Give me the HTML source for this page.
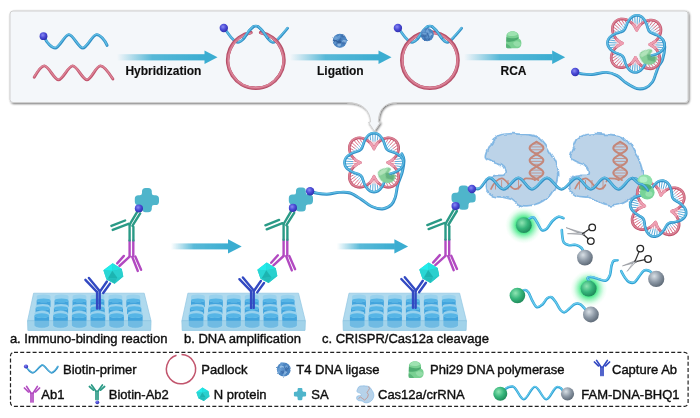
<!DOCTYPE html>
<html><head><meta charset="utf-8"><title>CRISPR/Cas12a immunoassay scheme</title>
<style>
html,body{margin:0;padding:0;background:#fff;}
body{width:700px;height:418px;overflow:hidden;}
svg{display:block;font-family:"Liberation Sans",sans-serif;fill:#111;}
text{stroke:#111;stroke-width:0.4px;}
text[font-weight]{stroke-width:0.15px;}
</style></head><body>
<svg width="700" height="418" viewBox="0 0 700 418">
<defs>
<linearGradient id="ga"><stop offset="0" stop-color="#3badd1" stop-opacity="0"/><stop offset="0.4" stop-color="#3badd1" stop-opacity="0.85"/><stop offset="1" stop-color="#3badd1"/></linearGradient>
<radialGradient id="gBio" cx="0.4" cy="0.36" r="0.7"><stop offset="0" stop-color="#8a8af2"/><stop offset="0.5" stop-color="#4a4ad6"/><stop offset="1" stop-color="#2a2aa6"/></radialGradient>
<radialGradient id="gGreen" cx="0.38" cy="0.35" r="0.75"><stop offset="0" stop-color="#8fe5b3"/><stop offset="0.5" stop-color="#35b57a"/><stop offset="1" stop-color="#1b7e52"/></radialGradient>
<radialGradient id="gGrey" cx="0.38" cy="0.33" r="0.75"><stop offset="0" stop-color="#d9e0e6"/><stop offset="0.5" stop-color="#8d99a6"/><stop offset="1" stop-color="#55616e"/></radialGradient>
<radialGradient id="gGlow"><stop offset="0" stop-color="#36e57e"/><stop offset="0.42" stop-color="#40e884" stop-opacity="0.95"/><stop offset="0.62" stop-color="#5aee96" stop-opacity="0.55"/><stop offset="0.82" stop-color="#7ff3ac" stop-opacity="0.18"/><stop offset="1" stop-color="#9ff7c0" stop-opacity="0"/></radialGradient>
<radialGradient id="gT4" cx="0.4" cy="0.35" r="0.75"><stop offset="0" stop-color="#86b2da"/><stop offset="0.6" stop-color="#4a7db3"/><stop offset="1" stop-color="#375f92"/></radialGradient>
<linearGradient id="gPhi" x1="0" x2="1" y1="0" y2="1"><stop offset="0" stop-color="#a9e2b4"/><stop offset="0.55" stop-color="#6fc78a"/><stop offset="1" stop-color="#4aa86e"/></linearGradient>
<filter id="fAll" x="0" y="0" width="700" height="418" filterUnits="userSpaceOnUse"><feGaussianBlur stdDeviation="0.42"/></filter>
<filter id="fB" x="-10%" y="-10%" width="120%" height="120%"><feGaussianBlur stdDeviation="0.45"/></filter>
<filter id="fB1" x="-10%" y="-10%" width="120%" height="120%"><feGaussianBlur stdDeviation="0.9"/></filter>
<filter id="fBlob" x="-10%" y="-10%" width="120%" height="120%"><feTurbulence type="fractalNoise" baseFrequency="0.11" numOctaves="2" seed="4" result="n"/><feDisplacementMap in="SourceGraphic" in2="n" scale="5" xChannelSelector="R" yChannelSelector="G"/><feGaussianBlur stdDeviation="0.7"/></filter>
<filter id="fT4" x="-20%" y="-20%" width="140%" height="140%"><feTurbulence type="fractalNoise" baseFrequency="0.35" numOctaves="2" seed="7" result="n"/><feDisplacementMap in="SourceGraphic" in2="n" scale="2.2" xChannelSelector="R" yChannelSelector="G"/><feGaussianBlur stdDeviation="0.45"/></filter>
<filter id="fS" x="-5%" y="-10%" width="110%" height="125%"><feGaussianBlur in="SourceAlpha" stdDeviation="1.2"/><feOffset dx="0.8" dy="1.2"/><feComponentTransfer><feFuncA type="linear" slope="0.55"/></feComponentTransfer><feMerge><feMergeNode/><feMergeNode in="SourceGraphic"/></feMerge></filter>
</defs>
<rect width="700" height="418" fill="#fff"/>
<g filter="url(#fAll)">
<path d="M13,11H685Q688,11 688,14V99.5Q688,102.5 685,102.5H397C384,102.5 378.6,110 378.3,122L380.3,122.4L374.4,131.2L368.5,122.4L370.5,122C370.2,110 362,102.5 347,102.5H13Q10,102.5 10,99.5V14Q10,11 13,11Z" fill="#f4f7fa" stroke="#cfcfcf" stroke-width="1" filter="url(#fS)"/>
<path d="M44.5,37.5C46.6,42.8 51.9,48.1 55.2,48.1C59.4,48.1 64.7,34.6 68.9,34.6C73.2,34.6 78.5,48.1 82.8,48.1C87.1,48.1 92.4,34.6 96.7,34.6C99.9,34.6 105,40 107.1,45.4" fill="none" stroke="#3290c6" stroke-width="2.9" stroke-linecap="round" stroke-linejoin="round" />
<path d="M44.5,37.5C46.6,42.8 51.9,48.1 55.2,48.1C59.4,48.1 64.7,34.6 68.9,34.6C73.2,34.6 78.5,48.1 82.8,48.1C87.1,48.1 92.4,34.6 96.7,34.6C99.9,34.6 105,40 107.1,45.4" fill="none" stroke="#5fbde4" stroke-width="1.4" stroke-linecap="round" stroke-linejoin="round" transform="translate(-0.2,-0.45)" />
<circle cx="43.5" cy="36.2" r="3.9" fill="url(#gBio)"/>
<path d="M34.2,77.3C36.2,73.9 41.2,65.9 44.3,65.9C48.7,65.9 54.1,79.9 58.5,79.9C62.9,79.9 68.3,65.9 72.7,65.9C77.1,65.9 82.6,79.9 87,79.9C91.2,79.9 96.2,65.9 100.4,65.9C104.3,65.9 110.4,75.1 112.9,79" fill="none" stroke="#c2566e" stroke-width="2.9" stroke-linecap="round" stroke-linejoin="round" />
<path d="M34.2,77.3C36.2,73.9 41.2,65.9 44.3,65.9C48.7,65.9 54.1,79.9 58.5,79.9C62.9,79.9 68.3,65.9 72.7,65.9C77.1,65.9 82.6,79.9 87,79.9C91.2,79.9 96.2,65.9 100.4,65.9C104.3,65.9 110.4,75.1 112.9,79" fill="none" stroke="#dc8497" stroke-width="1.4" stroke-linecap="round" stroke-linejoin="round" transform="translate(-0.2,-0.45)" />
<rect x="117" y="54.2" width="88" height="6.2" fill="url(#ga)"/>
<path d="M204.5,50.6L217.5,57.3L204.5,64Z" fill="#3badd1"/>
<text x="125.4" y="75" font-size="12" font-weight="bold">Hybridization</text>
<path d="M224.3,28.2C225.5,29.8 229.4,35.5 231.3,37.7C233.2,39.9 234.6,40.9 235.8,41.6C237.1,42.4 237.6,42.5 238.8,42.2C240,41.9 241,41.7 242.8,39.7C244.6,37.7 248.1,32.4 249.8,30.2C251.6,28.1 252.3,27.5 253.3,26.8C254.3,26.1 255,26.2 255.8,26.2C256.6,26.2 257.3,26.1 258.3,26.8C259.3,27.5 260.1,28.1 261.8,30.2C263.6,32.4 267.1,37.7 268.8,39.7C270.6,41.7 271.2,41.9 272.3,42.2C273.4,42.5 274.1,42.4 275.3,41.6C276.6,40.8 277.8,39.4 279.8,37.2C281.9,35 286.3,29.7 287.6,28.2" fill="none" stroke="#3290c6" stroke-width="2.7" stroke-linecap="round" stroke-linejoin="round" />
<path d="M224.3,28.2C225.5,29.8 229.4,35.5 231.3,37.7C233.2,39.9 234.6,40.9 235.8,41.6C237.1,42.4 237.6,42.5 238.8,42.2C240,41.9 241,41.7 242.8,39.7C244.6,37.7 248.1,32.4 249.8,30.2C251.6,28.1 252.3,27.5 253.3,26.8C254.3,26.1 255,26.2 255.8,26.2C256.6,26.2 257.3,26.1 258.3,26.8C259.3,27.5 260.1,28.1 261.8,30.2C263.6,32.4 267.1,37.7 268.8,39.7C270.6,41.7 271.2,41.9 272.3,42.2C273.4,42.5 274.1,42.4 275.3,41.6C276.6,40.8 277.8,39.4 279.8,37.2C281.9,35 286.3,29.7 287.6,28.2" fill="none" stroke="#5fbde4" stroke-width="1.4" stroke-linecap="round" stroke-linejoin="round" transform="translate(-0.2,-0.45)" />
<path d="M250.9,32.5A28.1,28.1 0 1 0 260.7,32.5" fill="none" stroke="#b54f68" stroke-width="3.6" stroke-linecap="round"/>
<path d="M251,33A27.6,27.6 0 1 0 260.6,33" fill="none" stroke="#cf6f86" stroke-width="2.2" stroke-linecap="round"/>
<path d="M251,33.2A27.4,27.4 0 1 0 260.6,33.2" fill="none" stroke="#e08da0" stroke-width="0.9" stroke-linecap="round"/>
<path d="M243.8,38.2C244.8,36.9 248.2,32.1 249.8,30.2C251.4,28.3 252.7,27.4 253.3,26.8" fill="none" stroke="#3290c6" stroke-width="2.7" stroke-linecap="round" stroke-linejoin="round" />
<path d="M243.8,38.2C244.8,36.9 248.2,32.1 249.8,30.2C251.4,28.3 252.7,27.4 253.3,26.8" fill="none" stroke="#5fbde4" stroke-width="1.4" stroke-linecap="round" stroke-linejoin="round" transform="translate(-0.2,-0.45)" />
<path d="M267.8,38.2C266.8,36.9 263.4,32.1 261.8,30.2C260.2,28.3 258.9,27.4 258.3,26.8" fill="none" stroke="#3290c6" stroke-width="2.7" stroke-linecap="round" stroke-linejoin="round" />
<path d="M267.8,38.2C266.8,36.9 263.4,32.1 261.8,30.2C260.2,28.3 258.9,27.4 258.3,26.8" fill="none" stroke="#5fbde4" stroke-width="1.4" stroke-linecap="round" stroke-linejoin="round" transform="translate(-0.2,-0.45)" />
<circle cx="223.8" cy="28" r="4.2" fill="url(#gBio)"/>
<rect x="290" y="54.2" width="89" height="6.2" fill="url(#ga)"/>
<path d="M378.5,50.6L391.5,57.3L378.5,64Z" fill="#3badd1"/>
<text x="317" y="75" font-size="12" font-weight="bold">Ligation</text>
<circle cx="339.8" cy="40.8" r="6.5" fill="#4c84c0"/>
<g filter="url(#fT4)">
<circle cx="339.8" cy="40.8" r="7" fill="#4c84c0"/>
<circle cx="339.6" cy="44.2" r="1.4" fill="#6a9fd6" opacity="0.7"/>
<circle cx="335.3" cy="41" r="1.6" fill="#325f9b" opacity="0.7"/>
<circle cx="339.2" cy="42.6" r="2" fill="#325f9b" opacity="0.7"/>
<circle cx="335.5" cy="39.3" r="1.5" fill="#3968a6" opacity="0.7"/>
<circle cx="339.5" cy="42.1" r="1.9" fill="#325f9b" opacity="0.7"/>
<circle cx="339.1" cy="35.9" r="1.2" fill="#6a9fd6" opacity="0.7"/>
<circle cx="344" cy="41.6" r="1.8" fill="#9cc4ea" opacity="0.7"/>
<circle cx="334.8" cy="41.1" r="1.9" fill="#325f9b" opacity="0.7"/>
<circle cx="335.4" cy="43.3" r="1.5" fill="#3968a6" opacity="0.7"/>
<circle cx="340.3" cy="39.3" r="1.2" fill="#3968a6" opacity="0.7"/>
<circle cx="339.1" cy="44.7" r="1.8" fill="#9cc4ea" opacity="0.7"/>
<circle cx="334.9" cy="42.7" r="1.6" fill="#6a9fd6" opacity="0.7"/>
<circle cx="335.8" cy="38.2" r="1.9" fill="#7fb0e0" opacity="0.7"/>
<circle cx="342.8" cy="35.9" r="1.7" fill="#3968a6" opacity="0.7"/>
<circle cx="338.4" cy="37.6" r="1.6" fill="#6a9fd6" opacity="0.7"/>
<circle cx="335.2" cy="38.4" r="1.3" fill="#6a9fd6" opacity="0.7"/>
<circle cx="339.1" cy="41.9" r="1.5" fill="#325f9b" opacity="0.7"/>
<circle cx="343.5" cy="42.9" r="1.5" fill="#3968a6" opacity="0.7"/>
</g>
<path d="M398.4,28.2C399.6,29.8 403.5,35.5 405.4,37.7C407.3,39.9 408.6,40.9 409.9,41.6C411.1,42.4 411.7,42.5 412.9,42.2C414.1,41.9 415.1,41.7 416.9,39.7C418.7,37.7 422.1,32.4 423.9,30.2C425.6,28.1 426.4,27.5 427.4,26.8C428.4,26.1 429.1,26.2 429.9,26.2C430.7,26.2 431.4,26.1 432.4,26.8C433.4,27.5 434.1,28.1 435.9,30.2C437.6,32.4 441.1,37.7 442.9,39.7C444.6,41.7 445.3,41.9 446.4,42.2C447.5,42.5 448.1,42.4 449.4,41.6C450.6,40.8 451.8,39.4 453.9,37.2C455.9,35 460.4,29.7 461.7,28.2" fill="none" stroke="#3290c6" stroke-width="2.7" stroke-linecap="round" stroke-linejoin="round" />
<path d="M398.4,28.2C399.6,29.8 403.5,35.5 405.4,37.7C407.3,39.9 408.6,40.9 409.9,41.6C411.1,42.4 411.7,42.5 412.9,42.2C414.1,41.9 415.1,41.7 416.9,39.7C418.7,37.7 422.1,32.4 423.9,30.2C425.6,28.1 426.4,27.5 427.4,26.8C428.4,26.1 429.1,26.2 429.9,26.2C430.7,26.2 431.4,26.1 432.4,26.8C433.4,27.5 434.1,28.1 435.9,30.2C437.6,32.4 441.1,37.7 442.9,39.7C444.6,41.7 445.3,41.9 446.4,42.2C447.5,42.5 448.1,42.4 449.4,41.6C450.6,40.8 451.8,39.4 453.9,37.2C455.9,35 460.4,29.7 461.7,28.2" fill="none" stroke="#5fbde4" stroke-width="1.4" stroke-linecap="round" stroke-linejoin="round" transform="translate(-0.2,-0.45)" />
<circle cx="429.9" cy="60.2" r="28.1" fill="none" stroke="#b54f68" stroke-width="3.6"/>
<circle cx="429.9" cy="60.2" r="27.6" fill="none" stroke="#cf6f86" stroke-width="2.2"/>
<circle cx="429.9" cy="60.2" r="27.4" fill="none" stroke="#e08da0" stroke-width="0.9"/>
<path d="M417.9,38.2C418.9,36.9 422.3,32.1 423.9,30.2C425.5,28.3 426.8,27.4 427.4,26.8" fill="none" stroke="#3290c6" stroke-width="2.7" stroke-linecap="round" stroke-linejoin="round" />
<path d="M417.9,38.2C418.9,36.9 422.3,32.1 423.9,30.2C425.5,28.3 426.8,27.4 427.4,26.8" fill="none" stroke="#5fbde4" stroke-width="1.4" stroke-linecap="round" stroke-linejoin="round" transform="translate(-0.2,-0.45)" />
<path d="M441.9,38.2C440.9,36.9 437.5,32.1 435.9,30.2C434.3,28.3 433,27.4 432.4,26.8" fill="none" stroke="#3290c6" stroke-width="2.7" stroke-linecap="round" stroke-linejoin="round" />
<path d="M441.9,38.2C440.9,36.9 437.5,32.1 435.9,30.2C434.3,28.3 433,27.4 432.4,26.8" fill="none" stroke="#5fbde4" stroke-width="1.4" stroke-linecap="round" stroke-linejoin="round" transform="translate(-0.2,-0.45)" />
<circle cx="397.9" cy="28" r="4.2" fill="url(#gBio)"/>
<circle cx="427.2" cy="34.6" r="6.1" fill="#4c84c0"/>
<g filter="url(#fT4)">
<circle cx="427.2" cy="34.6" r="6.6" fill="#4c84c0"/>
<circle cx="423.5" cy="31" r="1.7" fill="#6a9fd6" opacity="0.7"/>
<circle cx="430" cy="34.7" r="1.8" fill="#7fb0e0" opacity="0.7"/>
<circle cx="427.9" cy="33.3" r="1.4" fill="#3968a6" opacity="0.7"/>
<circle cx="425.7" cy="35" r="1.3" fill="#3968a6" opacity="0.7"/>
<circle cx="425.1" cy="35.1" r="1.7" fill="#325f9b" opacity="0.7"/>
<circle cx="429.2" cy="38" r="1.2" fill="#6a9fd6" opacity="0.7"/>
<circle cx="425.2" cy="34.6" r="1.8" fill="#7fb0e0" opacity="0.7"/>
<circle cx="427.2" cy="36.1" r="1.8" fill="#3968a6" opacity="0.7"/>
<circle cx="425.4" cy="39.1" r="1.5" fill="#3968a6" opacity="0.7"/>
<circle cx="428.9" cy="38.8" r="1.2" fill="#325f9b" opacity="0.7"/>
<circle cx="425.8" cy="36.8" r="1.2" fill="#3968a6" opacity="0.7"/>
<circle cx="426.5" cy="36.8" r="1.7" fill="#6a9fd6" opacity="0.7"/>
<circle cx="430.9" cy="34.2" r="1.3" fill="#9cc4ea" opacity="0.7"/>
<circle cx="425.1" cy="36.1" r="1.6" fill="#3968a6" opacity="0.7"/>
<circle cx="422.4" cy="34.6" r="1.1" fill="#7fb0e0" opacity="0.7"/>
<circle cx="429.4" cy="33.2" r="1.4" fill="#6a9fd6" opacity="0.7"/>
<circle cx="427.4" cy="31.3" r="1.5" fill="#7fb0e0" opacity="0.7"/>
<circle cx="422.6" cy="35.4" r="1.5" fill="#3968a6" opacity="0.7"/>
</g>
<rect x="464" y="54.1" width="88.7" height="6.2" fill="url(#ga)"/>
<path d="M552.2,50.5L565.2,57.2L552.2,63.9Z" fill="#3badd1"/>
<text x="500.5" y="75" font-size="12" font-weight="bold">RCA</text>
<g transform="translate(513.6,39.4) rotate(0) scale(1)" filter="url(#fB)">
<path d="M-7.2,-3C-7.4,-9.6 5,-10 5.2,-3.2L5,-0.8C9,0 8.8,8.8 4.2,8.8L-6,8.8Q-7.8,8.8 -7.6,6.5Z" fill="#79d092"/>
<path d="M-7.2,-2.5C-3,-0.5 2,-0.8 5,-2.4L5,-0.8C3,1.2 -3,3.4 -7.4,2.2Z" fill="#3f9f64" opacity="0.75"/>
<path d="M-6.2,-4.2C-6.2,-8.8 3.2,-9.2 4,-4.6C1,-3 -3,-3 -6.2,-4.2Z" fill="#a4e6b6" opacity="0.85"/>
<path d="M-0.5,3.6C2,0.8 7,1.6 7.2,5C6,8 1,8.4 -0.5,3.6Z" fill="#9be0ae" opacity="0.8"/>
<path d="M-7.4,4C-5,5 -3,7 -2,8.8L-6,8.8Q-7.8,8.8 -7.6,6.5Z" fill="#4cab6f" opacity="0.7"/>
</g>
<path d="M576,72.2C576.9,72.5 578.5,73.4 581.1,73.8C583.8,74.2 587.7,74.8 591.9,74.6C596.1,74.4 602.1,72.2 606.3,72.4C610.5,72.6 613.7,73.9 617,75.6C620.3,77.3 622.7,80.6 626,82.8C629.3,85 633.5,87.8 636.8,88.6C640.1,89.4 643.1,88.9 645.7,87.8C648.3,86.7 650.8,84.3 652.5,82C654.2,79.7 654.8,76.4 655.8,73.8C656.8,71.2 657.4,69 658.5,66.6C659.6,64.2 661.6,62.8 662.6,59.5C663.6,56.2 664.7,50.2 664.8,47C664.9,43.8 663.3,41.2 663,40" fill="none" stroke="#3290c6" stroke-width="2.9" stroke-linecap="round" stroke-linejoin="round" />
<path d="M576,72.2C576.9,72.5 578.5,73.4 581.1,73.8C583.8,74.2 587.7,74.8 591.9,74.6C596.1,74.4 602.1,72.2 606.3,72.4C610.5,72.6 613.7,73.9 617,75.6C620.3,77.3 622.7,80.6 626,82.8C629.3,85 633.5,87.8 636.8,88.6C640.1,89.4 643.1,88.9 645.7,87.8C648.3,86.7 650.8,84.3 652.5,82C654.2,79.7 654.8,76.4 655.8,73.8C656.8,71.2 657.4,69 658.5,66.6C659.6,64.2 661.6,62.8 662.6,59.5C663.6,56.2 664.7,50.2 664.8,47C664.9,43.8 663.3,41.2 663,40" fill="none" stroke="#5fbde4" stroke-width="1.4" stroke-linecap="round" stroke-linejoin="round" transform="translate(-0.2,-0.45)" />
<path d="M664.3,42.5L657.1,42.9" stroke="#4aa3d6" stroke-width="0.9"/>
<path d="M657.1,42.9L652.3,43.1" stroke="#e79aac" stroke-width="0.9"/>
<path d="M663,39.9L658.4,40.6" stroke="#4aa3d6" stroke-width="0.9"/>
<path d="M658.4,40.6L655.4,41" stroke="#e79aac" stroke-width="0.9"/>
<path d="M660.8,32.2L657.7,33.7" stroke="#d8607a" stroke-width="0.9"/>
<path d="M657.7,33.7L655.6,34.7" stroke="#7fc1e6" stroke-width="0.9"/>
<path d="M660.9,29L656.3,31.8" stroke="#d8607a" stroke-width="0.9"/>
<path d="M656.3,31.8L653.1,33.7" stroke="#7fc1e6" stroke-width="0.9"/>
<path d="M660.2,26L654.7,30.1" stroke="#d8607a" stroke-width="0.9"/>
<path d="M654.7,30.1L651.1,32.8" stroke="#7fc1e6" stroke-width="0.9"/>
<path d="M658.6,23.5L653.2,28.4" stroke="#d8607a" stroke-width="0.9"/>
<path d="M653.2,28.4L649.6,31.7" stroke="#7fc1e6" stroke-width="0.9"/>
<path d="M656.3,21.6L651.7,26.7" stroke="#d8607a" stroke-width="0.9"/>
<path d="M651.7,26.7L648.5,30.2" stroke="#7fc1e6" stroke-width="0.9"/>
<path d="M653.5,20.4L650.1,25.1" stroke="#d8607a" stroke-width="0.9"/>
<path d="M650.1,25.1L647.8,28.2" stroke="#7fc1e6" stroke-width="0.9"/>
<path d="M650.3,20.2L648.3,23.5" stroke="#d8607a" stroke-width="0.9"/>
<path d="M648.3,23.5L647,25.7" stroke="#7fc1e6" stroke-width="0.9"/>
<path d="M642.6,17.8L641.6,21.8" stroke="#4aa3d6" stroke-width="0.9"/>
<path d="M641.6,21.8L641,24.4" stroke="#e79aac" stroke-width="0.9"/>
<path d="M640.2,16.1L639.2,22.8" stroke="#4aa3d6" stroke-width="0.9"/>
<path d="M639.2,22.8L638.6,27.2" stroke="#e79aac" stroke-width="0.9"/>
<path d="M637.5,15.3L637.1,24.4" stroke="#4aa3d6" stroke-width="0.9"/>
<path d="M637.1,24.4L636.8,30.4" stroke="#e79aac" stroke-width="0.9"/>
<path d="M634.7,15.7L635.1,22.9" stroke="#4aa3d6" stroke-width="0.9"/>
<path d="M635.1,22.9L635.3,27.7" stroke="#e79aac" stroke-width="0.9"/>
<path d="M632.1,17L632.8,21.6" stroke="#4aa3d6" stroke-width="0.9"/>
<path d="M632.8,21.6L633.2,24.6" stroke="#e79aac" stroke-width="0.9"/>
<path d="M624.4,19.2L625.9,22.3" stroke="#d8607a" stroke-width="0.9"/>
<path d="M625.9,22.3L626.9,24.4" stroke="#7fc1e6" stroke-width="0.9"/>
<path d="M621.2,19.1L624,23.7" stroke="#d8607a" stroke-width="0.9"/>
<path d="M624,23.7L625.9,26.9" stroke="#7fc1e6" stroke-width="0.9"/>
<path d="M618.2,19.8L622.3,25.3" stroke="#d8607a" stroke-width="0.9"/>
<path d="M622.3,25.3L625,28.9" stroke="#7fc1e6" stroke-width="0.9"/>
<path d="M615.7,21.4L620.6,26.8" stroke="#d8607a" stroke-width="0.9"/>
<path d="M620.6,26.8L623.9,30.4" stroke="#7fc1e6" stroke-width="0.9"/>
<path d="M613.8,23.7L618.9,28.3" stroke="#d8607a" stroke-width="0.9"/>
<path d="M618.9,28.3L622.4,31.5" stroke="#7fc1e6" stroke-width="0.9"/>
<path d="M612.6,26.5L617.3,29.9" stroke="#d8607a" stroke-width="0.9"/>
<path d="M617.3,29.9L620.4,32.2" stroke="#7fc1e6" stroke-width="0.9"/>
<path d="M612.4,29.7L615.7,31.7" stroke="#d8607a" stroke-width="0.9"/>
<path d="M615.7,31.7L617.9,33" stroke="#7fc1e6" stroke-width="0.9"/>
<path d="M610,37.4L614,38.4" stroke="#4aa3d6" stroke-width="0.9"/>
<path d="M614,38.4L616.6,39" stroke="#e79aac" stroke-width="0.9"/>
<path d="M608.3,39.8L615,40.8" stroke="#4aa3d6" stroke-width="0.9"/>
<path d="M615,40.8L619.4,41.4" stroke="#e79aac" stroke-width="0.9"/>
<path d="M607.5,42.5L616.6,42.9" stroke="#4aa3d6" stroke-width="0.9"/>
<path d="M616.6,42.9L622.6,43.2" stroke="#e79aac" stroke-width="0.9"/>
<path d="M607.9,45.3L615.1,44.9" stroke="#4aa3d6" stroke-width="0.9"/>
<path d="M615.1,44.9L619.9,44.7" stroke="#e79aac" stroke-width="0.9"/>
<path d="M609.2,47.9L613.8,47.2" stroke="#4aa3d6" stroke-width="0.9"/>
<path d="M613.8,47.2L616.8,46.8" stroke="#e79aac" stroke-width="0.9"/>
<path d="M611.4,55.6L614.5,54.1" stroke="#d8607a" stroke-width="0.9"/>
<path d="M614.5,54.1L616.6,53.1" stroke="#7fc1e6" stroke-width="0.9"/>
<path d="M611.3,58.8L615.9,56" stroke="#d8607a" stroke-width="0.9"/>
<path d="M615.9,56L619.1,54.1" stroke="#7fc1e6" stroke-width="0.9"/>
<path d="M612,61.8L617.5,57.7" stroke="#d8607a" stroke-width="0.9"/>
<path d="M617.5,57.7L621.1,55" stroke="#7fc1e6" stroke-width="0.9"/>
<path d="M613.6,64.3L619,59.4" stroke="#d8607a" stroke-width="0.9"/>
<path d="M619,59.4L622.6,56.1" stroke="#7fc1e6" stroke-width="0.9"/>
<path d="M615.9,66.2L620.5,61.1" stroke="#d8607a" stroke-width="0.9"/>
<path d="M620.5,61.1L623.7,57.6" stroke="#7fc1e6" stroke-width="0.9"/>
<path d="M618.7,67.4L622.1,62.7" stroke="#d8607a" stroke-width="0.9"/>
<path d="M622.1,62.7L624.4,59.6" stroke="#7fc1e6" stroke-width="0.9"/>
<path d="M621.9,67.6L623.9,64.3" stroke="#d8607a" stroke-width="0.9"/>
<path d="M623.9,64.3L625.2,62.1" stroke="#7fc1e6" stroke-width="0.9"/>
<path d="M629.6,70L630.6,66" stroke="#4aa3d6" stroke-width="0.9"/>
<path d="M630.6,66L631.2,63.4" stroke="#e79aac" stroke-width="0.9"/>
<path d="M632,71.7L633,65" stroke="#4aa3d6" stroke-width="0.9"/>
<path d="M633,65L633.6,60.6" stroke="#e79aac" stroke-width="0.9"/>
<path d="M634.7,72.5L635.1,63.4" stroke="#4aa3d6" stroke-width="0.9"/>
<path d="M635.1,63.4L635.4,57.4" stroke="#e79aac" stroke-width="0.9"/>
<path d="M637.5,72.1L637.1,64.9" stroke="#4aa3d6" stroke-width="0.9"/>
<path d="M637.1,64.9L636.9,60.1" stroke="#e79aac" stroke-width="0.9"/>
<path d="M640.1,70.8L639.4,66.2" stroke="#4aa3d6" stroke-width="0.9"/>
<path d="M639.4,66.2L639,63.2" stroke="#e79aac" stroke-width="0.9"/>
<path d="M647.8,68.6L646.3,65.5" stroke="#d8607a" stroke-width="0.9"/>
<path d="M646.3,65.5L645.3,63.4" stroke="#7fc1e6" stroke-width="0.9"/>
<path d="M651,68.7L648.2,64.1" stroke="#d8607a" stroke-width="0.9"/>
<path d="M648.2,64.1L646.3,60.9" stroke="#7fc1e6" stroke-width="0.9"/>
<path d="M654,68L649.9,62.5" stroke="#d8607a" stroke-width="0.9"/>
<path d="M649.9,62.5L647.2,58.9" stroke="#7fc1e6" stroke-width="0.9"/>
<path d="M656.5,66.4L651.6,61" stroke="#d8607a" stroke-width="0.9"/>
<path d="M651.6,61L648.3,57.4" stroke="#7fc1e6" stroke-width="0.9"/>
<path d="M658.4,64.1L653.3,59.5" stroke="#d8607a" stroke-width="0.9"/>
<path d="M653.3,59.5L649.8,56.3" stroke="#7fc1e6" stroke-width="0.9"/>
<path d="M659.6,61.3L654.9,57.9" stroke="#d8607a" stroke-width="0.9"/>
<path d="M654.9,57.9L651.8,55.6" stroke="#7fc1e6" stroke-width="0.9"/>
<path d="M659.8,58.1L656.5,56.1" stroke="#d8607a" stroke-width="0.9"/>
<path d="M656.5,56.1L654.3,54.8" stroke="#7fc1e6" stroke-width="0.9"/>
<path d="M662.2,50.4L658.2,49.4" stroke="#4aa3d6" stroke-width="0.9"/>
<path d="M658.2,49.4L655.6,48.8" stroke="#e79aac" stroke-width="0.9"/>
<path d="M663.9,48L657.2,47" stroke="#4aa3d6" stroke-width="0.9"/>
<path d="M657.2,47L652.8,46.4" stroke="#e79aac" stroke-width="0.9"/>
<path d="M664.7,45.3L655.6,44.9" stroke="#4aa3d6" stroke-width="0.9"/>
<path d="M655.6,44.9L649.6,44.6" stroke="#e79aac" stroke-width="0.9"/>
<path d="M650.7,43.9L652.4,43L654.1,42L655.7,40.8L657.1,39.4L658.3,38L659.3,36.4L660.1,34.7L660.6,33L660.9,31.2L661,29.5L660.8,27.9L660.3,26.3L659.6,24.9L658.7,23.6L657.6,22.4L656.2,21.5L654.8,20.8L653.2,20.4L651.5,20.2L649.8,20.2L648,20.5L646.3,21L644.6,21.8L642.9,22.8L641.4,24L640,25.4L638.8,26.9L637.7,28.6L636.8,30.3L636.1,29.3L635.2,27.6L634.2,25.9L633,24.3L631.6,22.9L630.2,21.7L628.6,20.7L626.9,19.9L625.2,19.4L623.4,19.1L621.7,19L620.1,19.2L618.5,19.7L617.1,20.4L615.8,21.3L614.6,22.4L613.7,23.8L613,25.2L612.6,26.8L612.4,28.5L612.4,30.2L612.7,32L613.2,33.7L614,35.4L615,37.1L616.2,38.6L617.6,40L619.1,41.2L620.8,42.3L622.5,43.2L621.5,43.9L619.8,44.8L618.1,45.8L616.5,47L615.1,48.4L613.9,49.8L612.9,51.4L612.1,53.1L611.6,54.8L611.3,56.6L611.2,58.3L611.4,59.9L611.9,61.5L612.6,62.9L613.5,64.2L614.6,65.4L616,66.3L617.4,67L619,67.4L620.7,67.6L622.4,67.6L624.2,67.3L625.9,66.8L627.6,66L629.3,65L630.8,63.8L632.2,62.4L633.4,60.9L634.5,59.2L635.4,57.5L636.1,58.5L637,60.2L638,61.9L639.2,63.5L640.6,64.9L642,66.1L643.6,67.1L645.3,67.9L647,68.4L648.8,68.7L650.5,68.8L652.1,68.6L653.7,68.1L655.1,67.4L656.4,66.5L657.6,65.4L658.5,64L659.2,62.6L659.6,61L659.8,59.3L659.8,57.6L659.5,55.8L659,54.1L658.2,52.4L657.2,50.7L656,49.2L654.6,47.8L653.1,46.6L651.4,45.5L649.7,44.6Z" fill="none" stroke="#c2566e" stroke-width="2.7" stroke-linecap="round" stroke-linejoin="round" />
<path d="M650.7,43.9L652.4,43L654.1,42L655.7,40.8L657.1,39.4L658.3,38L659.3,36.4L660.1,34.7L660.6,33L660.9,31.2L661,29.5L660.8,27.9L660.3,26.3L659.6,24.9L658.7,23.6L657.6,22.4L656.2,21.5L654.8,20.8L653.2,20.4L651.5,20.2L649.8,20.2L648,20.5L646.3,21L644.6,21.8L642.9,22.8L641.4,24L640,25.4L638.8,26.9L637.7,28.6L636.8,30.3L636.1,29.3L635.2,27.6L634.2,25.9L633,24.3L631.6,22.9L630.2,21.7L628.6,20.7L626.9,19.9L625.2,19.4L623.4,19.1L621.7,19L620.1,19.2L618.5,19.7L617.1,20.4L615.8,21.3L614.6,22.4L613.7,23.8L613,25.2L612.6,26.8L612.4,28.5L612.4,30.2L612.7,32L613.2,33.7L614,35.4L615,37.1L616.2,38.6L617.6,40L619.1,41.2L620.8,42.3L622.5,43.2L621.5,43.9L619.8,44.8L618.1,45.8L616.5,47L615.1,48.4L613.9,49.8L612.9,51.4L612.1,53.1L611.6,54.8L611.3,56.6L611.2,58.3L611.4,59.9L611.9,61.5L612.6,62.9L613.5,64.2L614.6,65.4L616,66.3L617.4,67L619,67.4L620.7,67.6L622.4,67.6L624.2,67.3L625.9,66.8L627.6,66L629.3,65L630.8,63.8L632.2,62.4L633.4,60.9L634.5,59.2L635.4,57.5L636.1,58.5L637,60.2L638,61.9L639.2,63.5L640.6,64.9L642,66.1L643.6,67.1L645.3,67.9L647,68.4L648.8,68.7L650.5,68.8L652.1,68.6L653.7,68.1L655.1,67.4L656.4,66.5L657.6,65.4L658.5,64L659.2,62.6L659.6,61L659.8,59.3L659.8,57.6L659.5,55.8L659,54.1L658.2,52.4L657.2,50.7L656,49.2L654.6,47.8L653.1,46.6L651.4,45.5L649.7,44.6Z" fill="none" stroke="#dc8497" stroke-width="1.4" stroke-linecap="round" stroke-linejoin="round" transform="translate(-0.2,-0.45)" />
<path d="M655,48.2L654.3,47.5L653.5,46.9L652.7,46.3L651.9,45.8L651,45.3L650.2,44.8L649.3,44.4L650.2,44.1L651.1,43.7L652,43.3L652.8,42.8L653.7,42.3L654.5,41.7L655.3,41.1" fill="none" stroke="#ee9fb2" stroke-width="2.3" stroke-linecap="round" stroke-linejoin="round"/>
<path d="M640.4,25L639.7,25.7L639.1,26.5L638.5,27.3L638,28.1L637.5,29L637,29.8L636.6,30.7L636.3,29.8L635.9,28.9L635.5,28L635,27.2L634.5,26.3L633.9,25.5L633.3,24.7" fill="none" stroke="#ee9fb2" stroke-width="2.3" stroke-linecap="round" stroke-linejoin="round"/>
<path d="M617.2,39.6L617.9,40.3L618.7,40.9L619.5,41.5L620.3,42L621.2,42.5L622,43L622.9,43.4L622,43.7L621.1,44.1L620.2,44.5L619.4,45L618.5,45.5L617.7,46.1L616.9,46.7" fill="none" stroke="#ee9fb2" stroke-width="2.3" stroke-linecap="round" stroke-linejoin="round"/>
<path d="M631.8,62.8L632.5,62.1L633.1,61.3L633.7,60.5L634.2,59.7L634.7,58.8L635.2,58L635.6,57.1L635.9,58L636.3,58.9L636.7,59.8L637.2,60.6L637.7,61.5L638.3,62.3L638.9,63.1" fill="none" stroke="#ee9fb2" stroke-width="2.3" stroke-linecap="round" stroke-linejoin="round"/>
<path d="M664.6,43.9L664.3,42.4L663.7,41L662.8,39.7L661.7,38.4L660.5,37.4L659.1,36.4L657.7,35.6L656.2,34.9L654.8,34.4L653.5,33.8L652.3,33.4L651.3,32.9L650.4,32.3L649.6,31.7L649,31L648.5,30.1L648.1,29.1L647.7,27.9L647.3,26.6L646.9,25.2L646.4,23.8L645.7,22.3L645,20.8L644.1,19.4L643,18.1L641.8,17L640.5,16.2L639.1,15.6L637.6,15.3L636.1,15.4L634.6,15.7L633.2,16.3L631.9,17.2L630.6,18.3L629.6,19.5L628.6,20.9L627.8,22.3L627.1,23.8L626.6,25.2L626,26.5L625.6,27.7L625.1,28.7L624.5,29.6L623.9,30.4L623.2,31L622.3,31.5L621.3,31.9L620.1,32.3L618.8,32.7L617.4,33.1L616,33.6L614.5,34.3L613,35L611.6,35.9L610.3,37L609.2,38.2L608.4,39.5L607.8,40.9L607.5,42.4L607.6,43.9L607.9,45.4L608.5,46.8L609.4,48.1L610.5,49.4L611.7,50.4L613.1,51.4L614.5,52.2L616,52.9L617.4,53.4L618.7,54L619.9,54.4L620.9,54.9L621.8,55.5L622.6,56.1L623.2,56.8L623.7,57.7L624.1,58.7L624.5,59.9L624.9,61.2L625.3,62.6L625.8,64L626.5,65.5L627.2,67L628.1,68.4L629.2,69.7L630.4,70.8L631.7,71.6L633.1,72.2L634.6,72.5L636.1,72.4L637.6,72.1L639,71.5L640.3,70.6L641.6,69.5L642.6,68.3L643.6,66.9L644.4,65.5L645.1,64L645.6,62.6L646.2,61.3L646.6,60.1L647.1,59.1L647.7,58.2L648.3,57.4L649,56.8L649.9,56.3L650.9,55.9L652.1,55.5L653.4,55.1L654.8,54.7L656.2,54.2L657.7,53.5L659.2,52.8L660.6,51.9L661.9,50.8L663,49.6L663.8,48.3L664.4,46.9L664.7,45.4Z" fill="none" stroke="#3290c6" stroke-width="2.7" stroke-linecap="round" stroke-linejoin="round" />
<path d="M664.6,43.9L664.3,42.4L663.7,41L662.8,39.7L661.7,38.4L660.5,37.4L659.1,36.4L657.7,35.6L656.2,34.9L654.8,34.4L653.5,33.8L652.3,33.4L651.3,32.9L650.4,32.3L649.6,31.7L649,31L648.5,30.1L648.1,29.1L647.7,27.9L647.3,26.6L646.9,25.2L646.4,23.8L645.7,22.3L645,20.8L644.1,19.4L643,18.1L641.8,17L640.5,16.2L639.1,15.6L637.6,15.3L636.1,15.4L634.6,15.7L633.2,16.3L631.9,17.2L630.6,18.3L629.6,19.5L628.6,20.9L627.8,22.3L627.1,23.8L626.6,25.2L626,26.5L625.6,27.7L625.1,28.7L624.5,29.6L623.9,30.4L623.2,31L622.3,31.5L621.3,31.9L620.1,32.3L618.8,32.7L617.4,33.1L616,33.6L614.5,34.3L613,35L611.6,35.9L610.3,37L609.2,38.2L608.4,39.5L607.8,40.9L607.5,42.4L607.6,43.9L607.9,45.4L608.5,46.8L609.4,48.1L610.5,49.4L611.7,50.4L613.1,51.4L614.5,52.2L616,52.9L617.4,53.4L618.7,54L619.9,54.4L620.9,54.9L621.8,55.5L622.6,56.1L623.2,56.8L623.7,57.7L624.1,58.7L624.5,59.9L624.9,61.2L625.3,62.6L625.8,64L626.5,65.5L627.2,67L628.1,68.4L629.2,69.7L630.4,70.8L631.7,71.6L633.1,72.2L634.6,72.5L636.1,72.4L637.6,72.1L639,71.5L640.3,70.6L641.6,69.5L642.6,68.3L643.6,66.9L644.4,65.5L645.1,64L645.6,62.6L646.2,61.3L646.6,60.1L647.1,59.1L647.7,58.2L648.3,57.4L649,56.8L649.9,56.3L650.9,55.9L652.1,55.5L653.4,55.1L654.8,54.7L656.2,54.2L657.7,53.5L659.2,52.8L660.6,51.9L661.9,50.8L663,49.6L663.8,48.3L664.4,46.9L664.7,45.4Z" fill="none" stroke="#5fbde4" stroke-width="1.4" stroke-linecap="round" stroke-linejoin="round" transform="translate(-0.2,-0.45)" />
<g transform="translate(648,57.3) rotate(-30) scale(1.12)" filter="url(#fB)">
<path d="M-5.5,-6Q-4.5,-7.6 -1,-7.4L5,-5.6Q7,-4.6 6.2,-2.6L3,-1.4L2.6,1.2L6.4,2.4Q7.6,3.4 6.8,5.2L3.6,7.2Q1,8 -2,6.8L-5.6,3.6Q-7,0.5 -6.6,-3Z" fill="#86cf98"/>
<path d="M-5,-5.6L-1,-6.8L4.6,-5L0.4,-2.6L-5,-2.8Z" fill="#b9e6c0" opacity="0.85"/>
<path d="M0.4,-2.6L3,-1.4L2.6,1.2L6.4,2.4L3.4,6.6L-1.5,2Z" fill="#4f9f6e" opacity="0.6"/>
</g>
<circle cx="575.2" cy="72" r="4.2" fill="url(#gBio)"/>
<path d="M33.6,293.2L144.2,293.2L151,320.8L27.6,320.8Z" fill="#b0daee" stroke="#90c6e2" stroke-width="0.7"/>
<path d="M27.6,320.8L151,320.8L150.7,330.4L27.9,330.4Z" fill="#9dd0e9" stroke="#84bedd" stroke-width="0.7"/>
<path d="M36.7,296.4V306.8A6.9,1.9 0 0 0 50.5,306.8V296.4A6.9,1.9 0 0 0 36.7,296.4Z" fill="#98d1ed"/>
<path d="M36.7,300.4V306.8A6.9,1.9 0 0 0 50.5,306.8V300.4A6.9,1.9 0 0 1 36.7,300.4Z" fill="#42a4dd"/>
<ellipse cx="43.6" cy="300.4" rx="6.9" ry="1.9" fill="#56b5e6"/>
<path d="M36.7,306.8A6.9,1.9 0 0 0 50.5,306.8" fill="none" stroke="#cfeaf6" stroke-width="0.6" opacity="0.8"/>
<path d="M54.6,296.4V306.8A6.9,1.9 0 0 0 68.5,306.8V296.4A6.9,1.9 0 0 0 54.6,296.4Z" fill="#98d1ed"/>
<path d="M54.6,300.4V306.8A6.9,1.9 0 0 0 68.5,306.8V300.4A6.9,1.9 0 0 1 54.6,300.4Z" fill="#42a4dd"/>
<ellipse cx="61.5" cy="300.4" rx="6.9" ry="1.9" fill="#56b5e6"/>
<path d="M54.6,306.8A6.9,1.9 0 0 0 68.5,306.8" fill="none" stroke="#cfeaf6" stroke-width="0.6" opacity="0.8"/>
<path d="M72.6,296.4V306.8A6.9,1.9 0 0 0 86.4,306.8V296.4A6.9,1.9 0 0 0 72.6,296.4Z" fill="#98d1ed"/>
<path d="M72.6,300.4V306.8A6.9,1.9 0 0 0 86.4,306.8V300.4A6.9,1.9 0 0 1 72.6,300.4Z" fill="#42a4dd"/>
<ellipse cx="79.5" cy="300.4" rx="6.9" ry="1.9" fill="#56b5e6"/>
<path d="M72.6,306.8A6.9,1.9 0 0 0 86.4,306.8" fill="none" stroke="#cfeaf6" stroke-width="0.6" opacity="0.8"/>
<path d="M90.5,296.4V306.8A6.9,1.9 0 0 0 104.3,306.8V296.4A6.9,1.9 0 0 0 90.5,296.4Z" fill="#98d1ed"/>
<path d="M90.5,300.4V306.8A6.9,1.9 0 0 0 104.3,306.8V300.4A6.9,1.9 0 0 1 90.5,300.4Z" fill="#42a4dd"/>
<ellipse cx="97.4" cy="300.4" rx="6.9" ry="1.9" fill="#56b5e6"/>
<path d="M90.5,306.8A6.9,1.9 0 0 0 104.3,306.8" fill="none" stroke="#cfeaf6" stroke-width="0.6" opacity="0.8"/>
<path d="M108.5,296.4V306.8A6.9,1.9 0 0 0 122.3,306.8V296.4A6.9,1.9 0 0 0 108.5,296.4Z" fill="#98d1ed"/>
<path d="M108.5,300.4V306.8A6.9,1.9 0 0 0 122.3,306.8V300.4A6.9,1.9 0 0 1 108.5,300.4Z" fill="#42a4dd"/>
<ellipse cx="115.4" cy="300.4" rx="6.9" ry="1.9" fill="#56b5e6"/>
<path d="M108.5,306.8A6.9,1.9 0 0 0 122.3,306.8" fill="none" stroke="#cfeaf6" stroke-width="0.6" opacity="0.8"/>
<path d="M126.4,296.4V306.8A6.9,1.9 0 0 0 140.2,306.8V296.4A6.9,1.9 0 0 0 126.4,296.4Z" fill="#98d1ed"/>
<path d="M126.4,300.4V306.8A6.9,1.9 0 0 0 140.2,306.8V300.4A6.9,1.9 0 0 1 126.4,300.4Z" fill="#42a4dd"/>
<ellipse cx="133.3" cy="300.4" rx="6.9" ry="1.9" fill="#56b5e6"/>
<path d="M126.4,306.8A6.9,1.9 0 0 0 140.2,306.8" fill="none" stroke="#cfeaf6" stroke-width="0.6" opacity="0.8"/>
<path d="M35.6,306V313.8A7.1,2.1 0 0 0 49.8,313.8V306A7.1,2.1 0 0 0 35.6,306Z" fill="#98d1ed"/>
<path d="M35.6,308.3V313.8A7.1,2.1 0 0 0 49.8,313.8V308.3A7.1,2.1 0 0 1 35.6,308.3Z" fill="#42a4dd"/>
<ellipse cx="42.7" cy="308.3" rx="7.1" ry="2.1" fill="#56b5e6"/>
<path d="M35.6,313.8A7.1,2.1 0 0 0 49.8,313.8" fill="none" stroke="#cfeaf6" stroke-width="0.6" opacity="0.8"/>
<path d="M53.9,306V313.8A7.1,2.1 0 0 0 68.1,313.8V306A7.1,2.1 0 0 0 53.9,306Z" fill="#98d1ed"/>
<path d="M53.9,308.3V313.8A7.1,2.1 0 0 0 68.1,313.8V308.3A7.1,2.1 0 0 1 53.9,308.3Z" fill="#42a4dd"/>
<ellipse cx="61" cy="308.3" rx="7.1" ry="2.1" fill="#56b5e6"/>
<path d="M53.9,313.8A7.1,2.1 0 0 0 68.1,313.8" fill="none" stroke="#cfeaf6" stroke-width="0.6" opacity="0.8"/>
<path d="M72.2,306V313.8A7.1,2.1 0 0 0 86.4,313.8V306A7.1,2.1 0 0 0 72.2,306Z" fill="#98d1ed"/>
<path d="M72.2,308.3V313.8A7.1,2.1 0 0 0 86.4,313.8V308.3A7.1,2.1 0 0 1 72.2,308.3Z" fill="#42a4dd"/>
<ellipse cx="79.3" cy="308.3" rx="7.1" ry="2.1" fill="#56b5e6"/>
<path d="M72.2,313.8A7.1,2.1 0 0 0 86.4,313.8" fill="none" stroke="#cfeaf6" stroke-width="0.6" opacity="0.8"/>
<path d="M90.5,306V313.8A7.1,2.1 0 0 0 104.7,313.8V306A7.1,2.1 0 0 0 90.5,306Z" fill="#98d1ed"/>
<path d="M90.5,308.3V313.8A7.1,2.1 0 0 0 104.7,313.8V308.3A7.1,2.1 0 0 1 90.5,308.3Z" fill="#42a4dd"/>
<ellipse cx="97.6" cy="308.3" rx="7.1" ry="2.1" fill="#56b5e6"/>
<path d="M90.5,313.8A7.1,2.1 0 0 0 104.7,313.8" fill="none" stroke="#cfeaf6" stroke-width="0.6" opacity="0.8"/>
<path d="M108.8,306V313.8A7.1,2.1 0 0 0 123,313.8V306A7.1,2.1 0 0 0 108.8,306Z" fill="#98d1ed"/>
<path d="M108.8,308.3V313.8A7.1,2.1 0 0 0 123,313.8V308.3A7.1,2.1 0 0 1 108.8,308.3Z" fill="#42a4dd"/>
<ellipse cx="115.9" cy="308.3" rx="7.1" ry="2.1" fill="#56b5e6"/>
<path d="M108.8,313.8A7.1,2.1 0 0 0 123,313.8" fill="none" stroke="#cfeaf6" stroke-width="0.6" opacity="0.8"/>
<path d="M127.1,306V313.8A7.1,2.1 0 0 0 141.3,313.8V306A7.1,2.1 0 0 0 127.1,306Z" fill="#98d1ed"/>
<path d="M127.1,308.3V313.8A7.1,2.1 0 0 0 141.3,313.8V308.3A7.1,2.1 0 0 1 127.1,308.3Z" fill="#42a4dd"/>
<ellipse cx="134.2" cy="308.3" rx="7.1" ry="2.1" fill="#56b5e6"/>
<path d="M127.1,313.8A7.1,2.1 0 0 0 141.3,313.8" fill="none" stroke="#cfeaf6" stroke-width="0.6" opacity="0.8"/>
<path d="M34.5,313.2V325.8A7.3,2.4 0 0 0 49.1,325.8V313.2A7.3,2.4 0 0 0 34.5,313.2Z" fill="#98d1ed"/>
<path d="M34.5,315.6V325.8A7.3,2.4 0 0 0 49.1,325.8V315.6A7.3,2.4 0 0 1 34.5,315.6Z" fill="#42a4dd"/>
<ellipse cx="41.8" cy="315.6" rx="7.3" ry="2.4" fill="#56b5e6"/>
<path d="M34.5,325.8A7.3,2.4 0 0 0 49.1,325.8" fill="none" stroke="#cfeaf6" stroke-width="0.6" opacity="0.8"/>
<path d="M53.2,313.2V325.8A7.3,2.4 0 0 0 67.8,325.8V313.2A7.3,2.4 0 0 0 53.2,313.2Z" fill="#98d1ed"/>
<path d="M53.2,315.6V325.8A7.3,2.4 0 0 0 67.8,325.8V315.6A7.3,2.4 0 0 1 53.2,315.6Z" fill="#42a4dd"/>
<ellipse cx="60.5" cy="315.6" rx="7.3" ry="2.4" fill="#56b5e6"/>
<path d="M53.2,325.8A7.3,2.4 0 0 0 67.8,325.8" fill="none" stroke="#cfeaf6" stroke-width="0.6" opacity="0.8"/>
<path d="M71.9,313.2V325.8A7.3,2.4 0 0 0 86.5,325.8V313.2A7.3,2.4 0 0 0 71.9,313.2Z" fill="#98d1ed"/>
<path d="M71.9,315.6V325.8A7.3,2.4 0 0 0 86.5,325.8V315.6A7.3,2.4 0 0 1 71.9,315.6Z" fill="#42a4dd"/>
<ellipse cx="79.2" cy="315.6" rx="7.3" ry="2.4" fill="#56b5e6"/>
<path d="M71.9,325.8A7.3,2.4 0 0 0 86.5,325.8" fill="none" stroke="#cfeaf6" stroke-width="0.6" opacity="0.8"/>
<path d="M90.6,313.2V325.8A7.3,2.4 0 0 0 105.2,325.8V313.2A7.3,2.4 0 0 0 90.6,313.2Z" fill="#98d1ed"/>
<path d="M90.6,315.6V325.8A7.3,2.4 0 0 0 105.2,325.8V315.6A7.3,2.4 0 0 1 90.6,315.6Z" fill="#42a4dd"/>
<ellipse cx="97.9" cy="315.6" rx="7.3" ry="2.4" fill="#56b5e6"/>
<path d="M90.6,325.8A7.3,2.4 0 0 0 105.2,325.8" fill="none" stroke="#cfeaf6" stroke-width="0.6" opacity="0.8"/>
<path d="M109.3,313.2V325.8A7.3,2.4 0 0 0 123.9,325.8V313.2A7.3,2.4 0 0 0 109.3,313.2Z" fill="#98d1ed"/>
<path d="M109.3,315.6V325.8A7.3,2.4 0 0 0 123.9,325.8V315.6A7.3,2.4 0 0 1 109.3,315.6Z" fill="#42a4dd"/>
<ellipse cx="116.6" cy="315.6" rx="7.3" ry="2.4" fill="#56b5e6"/>
<path d="M109.3,325.8A7.3,2.4 0 0 0 123.9,325.8" fill="none" stroke="#cfeaf6" stroke-width="0.6" opacity="0.8"/>
<path d="M128,313.2V325.8A7.3,2.4 0 0 0 142.6,325.8V313.2A7.3,2.4 0 0 0 128,313.2Z" fill="#98d1ed"/>
<path d="M128,315.6V325.8A7.3,2.4 0 0 0 142.6,325.8V315.6A7.3,2.4 0 0 1 128,315.6Z" fill="#42a4dd"/>
<ellipse cx="135.3" cy="315.6" rx="7.3" ry="2.4" fill="#56b5e6"/>
<path d="M128,325.8A7.3,2.4 0 0 0 142.6,325.8" fill="none" stroke="#cfeaf6" stroke-width="0.6" opacity="0.8"/>
<path d="M27.6,320.8L151,320.8L150.7,330.4L27.9,330.4Z" fill="#a8d6ec" opacity="0.45"/>
<path d="M97.1,308.5L97.1,292" stroke="#3249c2" stroke-width="2.4" stroke-linecap="round"/>
<path d="M99.7,308.5L99.7,292" stroke="#3249c2" stroke-width="2.4" stroke-linecap="round"/>
<path d="M96.9,291.8L85.4,279.8" stroke="#3249c2" stroke-width="2.4" stroke-linecap="round"/>
<path d="M99.3,290.6L88.9,278" stroke="#3249c2" stroke-width="2.4" stroke-linecap="round"/>
<path d="M99.9,291.6L106.9,281.5" stroke="#3249c2" stroke-width="2.4" stroke-linecap="round"/>
<path d="M103.2,293L110,283.6" stroke="#3249c2" stroke-width="2.4" stroke-linecap="round"/>
<path d="M129.6,240.4L129.6,256.4" stroke="#b24ac1" stroke-width="2.4" stroke-linecap="round"/>
<path d="M133.3,240.4L133.3,256" stroke="#b24ac1" stroke-width="2.4" stroke-linecap="round"/>
<path d="M129.6,256.6L119.4,266" stroke="#b24ac1" stroke-width="2.4" stroke-linecap="round"/>
<path d="M123.9,255.9L117.2,263.4" stroke="#b24ac1" stroke-width="2.4" stroke-linecap="round"/>
<path d="M132.2,256.8L137.8,271" stroke="#b24ac1" stroke-width="2.4" stroke-linecap="round"/>
<path d="M135.3,256.6L141.1,269.8" stroke="#b24ac1" stroke-width="2.4" stroke-linecap="round"/>
<path d="M129.6,240.4L129.6,224.6" stroke="#2c9a86" stroke-width="2.4" stroke-linecap="round"/>
<path d="M133.4,240.4L133.4,227" stroke="#2c9a86" stroke-width="2.4" stroke-linecap="round"/>
<path d="M129.6,224.6L137.2,211.8" stroke="#2c9a86" stroke-width="2.4" stroke-linecap="round"/>
<path d="M132.4,225.8L140.2,213.4" stroke="#2c9a86" stroke-width="2.4" stroke-linecap="round"/>
<path d="M111.4,225.9L125.1,220.5" stroke="#2c9a86" stroke-width="2.4" stroke-linecap="round"/>
<path d="M112.7,229.9L128.4,223.8" stroke="#2c9a86" stroke-width="2.4" stroke-linecap="round"/>
<path d="M112.7,263.2L121.8,268.9L123.3,276.6L114.6,283.7L106.5,279.4L103.4,270.3Z" fill="#28d0ce"/>
<path d="M112.7,263.2L112.3,270.8L103.4,270.3Z" fill="#22eceb"/>
<path d="M112.7,263.2L121.8,268.9L112.3,270.8Z" fill="#24e2e2"/>
<path d="M103.4,270.3L112.3,270.8L107.9,278.5L106.5,279.4Z" fill="#2bd6d4"/>
<path d="M121.8,268.9L123.3,276.6L117.5,278L112.3,270.8Z" fill="#29d0ce"/>
<path d="M112.3,270.8L117.5,278L107.9,278.5Z" fill="#1fb4b1"/>
<path d="M106.5,279.4L107.9,278.5L114.6,283.7Z" fill="#26c6c4"/>
<path d="M107.9,278.5L117.5,278L114.6,283.7Z" fill="#23bcba"/>
<path d="M117.5,278L123.3,276.6L114.6,283.7Z" fill="#28cac8"/>
<path d="M145.6,188L148.2,188Q151.8,188 151.8,191.6L151.8,193Q151.8,195.2 154,195.2L155.4,195.2Q159,195.2 159,198.8L159,201.4Q159,205 155.4,205L154,205Q151.8,205 151.8,207.2L151.8,208.6Q151.8,212.2 148.2,212.2L145.6,212.2Q142,212.2 142,208.6L142,207.2Q142,205 139.8,205L138.4,205Q134.8,205 134.8,201.4L134.8,198.8Q134.8,195.2 138.4,195.2L139.8,195.2Q142,195.2 142,193L142,191.6Q142,188 145.6,188Z" fill="#4fb5cb"/>
<circle cx="138.9" cy="208.5" r="4.1" fill="url(#gBio)"/>
<rect x="171" y="243.4" width="57.5" height="6" fill="url(#ga)"/>
<path d="M228,239.3L241.7,246.4L228,253.5Z" fill="#3badd1"/>
<path d="M187.9,293.2L298.5,293.2L305.3,320.8L181.9,320.8Z" fill="#b0daee" stroke="#90c6e2" stroke-width="0.7"/>
<path d="M181.9,320.8L305.3,320.8L305,330.4L182.2,330.4Z" fill="#9dd0e9" stroke="#84bedd" stroke-width="0.7"/>
<path d="M191,296.4V306.8A6.9,1.9 0 0 0 204.8,306.8V296.4A6.9,1.9 0 0 0 191,296.4Z" fill="#98d1ed"/>
<path d="M191,300.4V306.8A6.9,1.9 0 0 0 204.8,306.8V300.4A6.9,1.9 0 0 1 191,300.4Z" fill="#42a4dd"/>
<ellipse cx="197.9" cy="300.4" rx="6.9" ry="1.9" fill="#56b5e6"/>
<path d="M191,306.8A6.9,1.9 0 0 0 204.8,306.8" fill="none" stroke="#cfeaf6" stroke-width="0.6" opacity="0.8"/>
<path d="M209,296.4V306.8A6.9,1.9 0 0 0 222.8,306.8V296.4A6.9,1.9 0 0 0 209,296.4Z" fill="#98d1ed"/>
<path d="M209,300.4V306.8A6.9,1.9 0 0 0 222.8,306.8V300.4A6.9,1.9 0 0 1 209,300.4Z" fill="#42a4dd"/>
<ellipse cx="215.9" cy="300.4" rx="6.9" ry="1.9" fill="#56b5e6"/>
<path d="M209,306.8A6.9,1.9 0 0 0 222.8,306.8" fill="none" stroke="#cfeaf6" stroke-width="0.6" opacity="0.8"/>
<path d="M226.9,296.4V306.8A6.9,1.9 0 0 0 240.7,306.8V296.4A6.9,1.9 0 0 0 226.9,296.4Z" fill="#98d1ed"/>
<path d="M226.9,300.4V306.8A6.9,1.9 0 0 0 240.7,306.8V300.4A6.9,1.9 0 0 1 226.9,300.4Z" fill="#42a4dd"/>
<ellipse cx="233.8" cy="300.4" rx="6.9" ry="1.9" fill="#56b5e6"/>
<path d="M226.9,306.8A6.9,1.9 0 0 0 240.7,306.8" fill="none" stroke="#cfeaf6" stroke-width="0.6" opacity="0.8"/>
<path d="M244.8,296.4V306.8A6.9,1.9 0 0 0 258.6,306.8V296.4A6.9,1.9 0 0 0 244.8,296.4Z" fill="#98d1ed"/>
<path d="M244.8,300.4V306.8A6.9,1.9 0 0 0 258.6,306.8V300.4A6.9,1.9 0 0 1 244.8,300.4Z" fill="#42a4dd"/>
<ellipse cx="251.8" cy="300.4" rx="6.9" ry="1.9" fill="#56b5e6"/>
<path d="M244.8,306.8A6.9,1.9 0 0 0 258.6,306.8" fill="none" stroke="#cfeaf6" stroke-width="0.6" opacity="0.8"/>
<path d="M262.8,296.4V306.8A6.9,1.9 0 0 0 276.6,306.8V296.4A6.9,1.9 0 0 0 262.8,296.4Z" fill="#98d1ed"/>
<path d="M262.8,300.4V306.8A6.9,1.9 0 0 0 276.6,306.8V300.4A6.9,1.9 0 0 1 262.8,300.4Z" fill="#42a4dd"/>
<ellipse cx="269.7" cy="300.4" rx="6.9" ry="1.9" fill="#56b5e6"/>
<path d="M262.8,306.8A6.9,1.9 0 0 0 276.6,306.8" fill="none" stroke="#cfeaf6" stroke-width="0.6" opacity="0.8"/>
<path d="M280.8,296.4V306.8A6.9,1.9 0 0 0 294.5,306.8V296.4A6.9,1.9 0 0 0 280.8,296.4Z" fill="#98d1ed"/>
<path d="M280.8,300.4V306.8A6.9,1.9 0 0 0 294.5,306.8V300.4A6.9,1.9 0 0 1 280.8,300.4Z" fill="#42a4dd"/>
<ellipse cx="287.6" cy="300.4" rx="6.9" ry="1.9" fill="#56b5e6"/>
<path d="M280.8,306.8A6.9,1.9 0 0 0 294.5,306.8" fill="none" stroke="#cfeaf6" stroke-width="0.6" opacity="0.8"/>
<path d="M189.9,306V313.8A7.1,2.1 0 0 0 204.1,313.8V306A7.1,2.1 0 0 0 189.9,306Z" fill="#98d1ed"/>
<path d="M189.9,308.3V313.8A7.1,2.1 0 0 0 204.1,313.8V308.3A7.1,2.1 0 0 1 189.9,308.3Z" fill="#42a4dd"/>
<ellipse cx="197" cy="308.3" rx="7.1" ry="2.1" fill="#56b5e6"/>
<path d="M189.9,313.8A7.1,2.1 0 0 0 204.1,313.8" fill="none" stroke="#cfeaf6" stroke-width="0.6" opacity="0.8"/>
<path d="M208.2,306V313.8A7.1,2.1 0 0 0 222.4,313.8V306A7.1,2.1 0 0 0 208.2,306Z" fill="#98d1ed"/>
<path d="M208.2,308.3V313.8A7.1,2.1 0 0 0 222.4,313.8V308.3A7.1,2.1 0 0 1 208.2,308.3Z" fill="#42a4dd"/>
<ellipse cx="215.3" cy="308.3" rx="7.1" ry="2.1" fill="#56b5e6"/>
<path d="M208.2,313.8A7.1,2.1 0 0 0 222.4,313.8" fill="none" stroke="#cfeaf6" stroke-width="0.6" opacity="0.8"/>
<path d="M226.5,306V313.8A7.1,2.1 0 0 0 240.7,313.8V306A7.1,2.1 0 0 0 226.5,306Z" fill="#98d1ed"/>
<path d="M226.5,308.3V313.8A7.1,2.1 0 0 0 240.7,313.8V308.3A7.1,2.1 0 0 1 226.5,308.3Z" fill="#42a4dd"/>
<ellipse cx="233.6" cy="308.3" rx="7.1" ry="2.1" fill="#56b5e6"/>
<path d="M226.5,313.8A7.1,2.1 0 0 0 240.7,313.8" fill="none" stroke="#cfeaf6" stroke-width="0.6" opacity="0.8"/>
<path d="M244.8,306V313.8A7.1,2.1 0 0 0 259,313.8V306A7.1,2.1 0 0 0 244.8,306Z" fill="#98d1ed"/>
<path d="M244.8,308.3V313.8A7.1,2.1 0 0 0 259,313.8V308.3A7.1,2.1 0 0 1 244.8,308.3Z" fill="#42a4dd"/>
<ellipse cx="251.9" cy="308.3" rx="7.1" ry="2.1" fill="#56b5e6"/>
<path d="M244.8,313.8A7.1,2.1 0 0 0 259,313.8" fill="none" stroke="#cfeaf6" stroke-width="0.6" opacity="0.8"/>
<path d="M263.1,306V313.8A7.1,2.1 0 0 0 277.3,313.8V306A7.1,2.1 0 0 0 263.1,306Z" fill="#98d1ed"/>
<path d="M263.1,308.3V313.8A7.1,2.1 0 0 0 277.3,313.8V308.3A7.1,2.1 0 0 1 263.1,308.3Z" fill="#42a4dd"/>
<ellipse cx="270.2" cy="308.3" rx="7.1" ry="2.1" fill="#56b5e6"/>
<path d="M263.1,313.8A7.1,2.1 0 0 0 277.3,313.8" fill="none" stroke="#cfeaf6" stroke-width="0.6" opacity="0.8"/>
<path d="M281.4,306V313.8A7.1,2.1 0 0 0 295.6,313.8V306A7.1,2.1 0 0 0 281.4,306Z" fill="#98d1ed"/>
<path d="M281.4,308.3V313.8A7.1,2.1 0 0 0 295.6,313.8V308.3A7.1,2.1 0 0 1 281.4,308.3Z" fill="#42a4dd"/>
<ellipse cx="288.5" cy="308.3" rx="7.1" ry="2.1" fill="#56b5e6"/>
<path d="M281.4,313.8A7.1,2.1 0 0 0 295.6,313.8" fill="none" stroke="#cfeaf6" stroke-width="0.6" opacity="0.8"/>
<path d="M188.8,313.2V325.8A7.3,2.4 0 0 0 203.4,325.8V313.2A7.3,2.4 0 0 0 188.8,313.2Z" fill="#98d1ed"/>
<path d="M188.8,315.6V325.8A7.3,2.4 0 0 0 203.4,325.8V315.6A7.3,2.4 0 0 1 188.8,315.6Z" fill="#42a4dd"/>
<ellipse cx="196.1" cy="315.6" rx="7.3" ry="2.4" fill="#56b5e6"/>
<path d="M188.8,325.8A7.3,2.4 0 0 0 203.4,325.8" fill="none" stroke="#cfeaf6" stroke-width="0.6" opacity="0.8"/>
<path d="M207.5,313.2V325.8A7.3,2.4 0 0 0 222.1,325.8V313.2A7.3,2.4 0 0 0 207.5,313.2Z" fill="#98d1ed"/>
<path d="M207.5,315.6V325.8A7.3,2.4 0 0 0 222.1,325.8V315.6A7.3,2.4 0 0 1 207.5,315.6Z" fill="#42a4dd"/>
<ellipse cx="214.8" cy="315.6" rx="7.3" ry="2.4" fill="#56b5e6"/>
<path d="M207.5,325.8A7.3,2.4 0 0 0 222.1,325.8" fill="none" stroke="#cfeaf6" stroke-width="0.6" opacity="0.8"/>
<path d="M226.2,313.2V325.8A7.3,2.4 0 0 0 240.8,325.8V313.2A7.3,2.4 0 0 0 226.2,313.2Z" fill="#98d1ed"/>
<path d="M226.2,315.6V325.8A7.3,2.4 0 0 0 240.8,325.8V315.6A7.3,2.4 0 0 1 226.2,315.6Z" fill="#42a4dd"/>
<ellipse cx="233.5" cy="315.6" rx="7.3" ry="2.4" fill="#56b5e6"/>
<path d="M226.2,325.8A7.3,2.4 0 0 0 240.8,325.8" fill="none" stroke="#cfeaf6" stroke-width="0.6" opacity="0.8"/>
<path d="M244.9,313.2V325.8A7.3,2.4 0 0 0 259.5,325.8V313.2A7.3,2.4 0 0 0 244.9,313.2Z" fill="#98d1ed"/>
<path d="M244.9,315.6V325.8A7.3,2.4 0 0 0 259.5,325.8V315.6A7.3,2.4 0 0 1 244.9,315.6Z" fill="#42a4dd"/>
<ellipse cx="252.2" cy="315.6" rx="7.3" ry="2.4" fill="#56b5e6"/>
<path d="M244.9,325.8A7.3,2.4 0 0 0 259.5,325.8" fill="none" stroke="#cfeaf6" stroke-width="0.6" opacity="0.8"/>
<path d="M263.6,313.2V325.8A7.3,2.4 0 0 0 278.2,325.8V313.2A7.3,2.4 0 0 0 263.6,313.2Z" fill="#98d1ed"/>
<path d="M263.6,315.6V325.8A7.3,2.4 0 0 0 278.2,325.8V315.6A7.3,2.4 0 0 1 263.6,315.6Z" fill="#42a4dd"/>
<ellipse cx="270.9" cy="315.6" rx="7.3" ry="2.4" fill="#56b5e6"/>
<path d="M263.6,325.8A7.3,2.4 0 0 0 278.2,325.8" fill="none" stroke="#cfeaf6" stroke-width="0.6" opacity="0.8"/>
<path d="M282.3,313.2V325.8A7.3,2.4 0 0 0 296.9,325.8V313.2A7.3,2.4 0 0 0 282.3,313.2Z" fill="#98d1ed"/>
<path d="M282.3,315.6V325.8A7.3,2.4 0 0 0 296.9,325.8V315.6A7.3,2.4 0 0 1 282.3,315.6Z" fill="#42a4dd"/>
<ellipse cx="289.6" cy="315.6" rx="7.3" ry="2.4" fill="#56b5e6"/>
<path d="M282.3,325.8A7.3,2.4 0 0 0 296.9,325.8" fill="none" stroke="#cfeaf6" stroke-width="0.6" opacity="0.8"/>
<path d="M181.9,320.8L305.3,320.8L305,330.4L182.2,330.4Z" fill="#a8d6ec" opacity="0.45"/>
<path d="M251.1,307.9L251.1,291.4" stroke="#3249c2" stroke-width="2.4" stroke-linecap="round"/>
<path d="M253.7,307.9L253.7,291.4" stroke="#3249c2" stroke-width="2.4" stroke-linecap="round"/>
<path d="M250.9,291.2L239.4,279.2" stroke="#3249c2" stroke-width="2.4" stroke-linecap="round"/>
<path d="M253.3,290L242.9,277.4" stroke="#3249c2" stroke-width="2.4" stroke-linecap="round"/>
<path d="M253.9,291L260.9,280.9" stroke="#3249c2" stroke-width="2.4" stroke-linecap="round"/>
<path d="M257.2,292.4L264,283" stroke="#3249c2" stroke-width="2.4" stroke-linecap="round"/>
<path d="M283.6,239.8L283.6,255.8" stroke="#b24ac1" stroke-width="2.4" stroke-linecap="round"/>
<path d="M287.3,239.8L287.3,255.4" stroke="#b24ac1" stroke-width="2.4" stroke-linecap="round"/>
<path d="M283.6,256L273.4,265.4" stroke="#b24ac1" stroke-width="2.4" stroke-linecap="round"/>
<path d="M277.9,255.3L271.2,262.8" stroke="#b24ac1" stroke-width="2.4" stroke-linecap="round"/>
<path d="M286.2,256.2L291.8,270.4" stroke="#b24ac1" stroke-width="2.4" stroke-linecap="round"/>
<path d="M289.3,256L295.1,269.2" stroke="#b24ac1" stroke-width="2.4" stroke-linecap="round"/>
<path d="M283.6,239.8L283.6,224" stroke="#2c9a86" stroke-width="2.4" stroke-linecap="round"/>
<path d="M287.4,239.8L287.4,226.4" stroke="#2c9a86" stroke-width="2.4" stroke-linecap="round"/>
<path d="M283.6,224L291.2,211.2" stroke="#2c9a86" stroke-width="2.4" stroke-linecap="round"/>
<path d="M286.4,225.2L294.2,212.8" stroke="#2c9a86" stroke-width="2.4" stroke-linecap="round"/>
<path d="M265.4,225.3L279.1,219.9" stroke="#2c9a86" stroke-width="2.4" stroke-linecap="round"/>
<path d="M266.7,229.3L282.4,223.2" stroke="#2c9a86" stroke-width="2.4" stroke-linecap="round"/>
<path d="M266.7,262.6L275.8,268.3L277.3,276L268.6,283.1L260.5,278.8L257.4,269.7Z" fill="#28d0ce"/>
<path d="M266.7,262.6L266.3,270.2L257.4,269.7Z" fill="#22eceb"/>
<path d="M266.7,262.6L275.8,268.3L266.3,270.2Z" fill="#24e2e2"/>
<path d="M257.4,269.7L266.3,270.2L261.9,277.9L260.5,278.8Z" fill="#2bd6d4"/>
<path d="M275.8,268.3L277.3,276L271.5,277.4L266.3,270.2Z" fill="#29d0ce"/>
<path d="M266.3,270.2L271.5,277.4L261.9,277.9Z" fill="#1fb4b1"/>
<path d="M260.5,278.8L261.9,277.9L268.6,283.1Z" fill="#26c6c4"/>
<path d="M261.9,277.9L271.5,277.4L268.6,283.1Z" fill="#23bcba"/>
<path d="M271.5,277.4L277.3,276L268.6,283.1Z" fill="#28cac8"/>
<path d="M299.6,187.4L302.2,187.4Q305.8,187.4 305.8,191L305.8,192.4Q305.8,194.6 308,194.6L309.4,194.6Q313,194.6 313,198.2L313,200.8Q313,204.4 309.4,204.4L308,204.4Q305.8,204.4 305.8,206.6L305.8,208Q305.8,211.6 302.2,211.6L299.6,211.6Q296,211.6 296,208L296,206.6Q296,204.4 293.8,204.4L292.4,204.4Q288.8,204.4 288.8,200.8L288.8,198.2Q288.8,194.6 292.4,194.6L293.8,194.6Q296,194.6 296,192.4L296,191Q296,187.4 299.6,187.4Z" fill="#4fb5cb"/>
<circle cx="292.9" cy="207.9" r="4.1" fill="url(#gBio)"/>
<rect x="337" y="243.4" width="57.9" height="6" fill="url(#ga)"/>
<path d="M394.4,239.3L408.1,246.4L394.4,253.5Z" fill="#3badd1"/>
<path d="M349,293.2L459.6,293.2L466.4,320.8L343,320.8Z" fill="#b0daee" stroke="#90c6e2" stroke-width="0.7"/>
<path d="M343,320.8L466.4,320.8L466.1,330.4L343.3,330.4Z" fill="#9dd0e9" stroke="#84bedd" stroke-width="0.7"/>
<path d="M352.1,296.4V306.8A6.9,1.9 0 0 0 365.9,306.8V296.4A6.9,1.9 0 0 0 352.1,296.4Z" fill="#98d1ed"/>
<path d="M352.1,300.4V306.8A6.9,1.9 0 0 0 365.9,306.8V300.4A6.9,1.9 0 0 1 352.1,300.4Z" fill="#42a4dd"/>
<ellipse cx="359" cy="300.4" rx="6.9" ry="1.9" fill="#56b5e6"/>
<path d="M352.1,306.8A6.9,1.9 0 0 0 365.9,306.8" fill="none" stroke="#cfeaf6" stroke-width="0.6" opacity="0.8"/>
<path d="M370.1,296.4V306.8A6.9,1.9 0 0 0 383.8,306.8V296.4A6.9,1.9 0 0 0 370.1,296.4Z" fill="#98d1ed"/>
<path d="M370.1,300.4V306.8A6.9,1.9 0 0 0 383.8,306.8V300.4A6.9,1.9 0 0 1 370.1,300.4Z" fill="#42a4dd"/>
<ellipse cx="376.9" cy="300.4" rx="6.9" ry="1.9" fill="#56b5e6"/>
<path d="M370.1,306.8A6.9,1.9 0 0 0 383.8,306.8" fill="none" stroke="#cfeaf6" stroke-width="0.6" opacity="0.8"/>
<path d="M388,296.4V306.8A6.9,1.9 0 0 0 401.8,306.8V296.4A6.9,1.9 0 0 0 388,296.4Z" fill="#98d1ed"/>
<path d="M388,300.4V306.8A6.9,1.9 0 0 0 401.8,306.8V300.4A6.9,1.9 0 0 1 388,300.4Z" fill="#42a4dd"/>
<ellipse cx="394.9" cy="300.4" rx="6.9" ry="1.9" fill="#56b5e6"/>
<path d="M388,306.8A6.9,1.9 0 0 0 401.8,306.8" fill="none" stroke="#cfeaf6" stroke-width="0.6" opacity="0.8"/>
<path d="M405.9,296.4V306.8A6.9,1.9 0 0 0 419.7,306.8V296.4A6.9,1.9 0 0 0 405.9,296.4Z" fill="#98d1ed"/>
<path d="M405.9,300.4V306.8A6.9,1.9 0 0 0 419.7,306.8V300.4A6.9,1.9 0 0 1 405.9,300.4Z" fill="#42a4dd"/>
<ellipse cx="412.8" cy="300.4" rx="6.9" ry="1.9" fill="#56b5e6"/>
<path d="M405.9,306.8A6.9,1.9 0 0 0 419.7,306.8" fill="none" stroke="#cfeaf6" stroke-width="0.6" opacity="0.8"/>
<path d="M423.9,296.4V306.8A6.9,1.9 0 0 0 437.7,306.8V296.4A6.9,1.9 0 0 0 423.9,296.4Z" fill="#98d1ed"/>
<path d="M423.9,300.4V306.8A6.9,1.9 0 0 0 437.7,306.8V300.4A6.9,1.9 0 0 1 423.9,300.4Z" fill="#42a4dd"/>
<ellipse cx="430.8" cy="300.4" rx="6.9" ry="1.9" fill="#56b5e6"/>
<path d="M423.9,306.8A6.9,1.9 0 0 0 437.7,306.8" fill="none" stroke="#cfeaf6" stroke-width="0.6" opacity="0.8"/>
<path d="M441.9,296.4V306.8A6.9,1.9 0 0 0 455.6,306.8V296.4A6.9,1.9 0 0 0 441.9,296.4Z" fill="#98d1ed"/>
<path d="M441.9,300.4V306.8A6.9,1.9 0 0 0 455.6,306.8V300.4A6.9,1.9 0 0 1 441.9,300.4Z" fill="#42a4dd"/>
<ellipse cx="448.8" cy="300.4" rx="6.9" ry="1.9" fill="#56b5e6"/>
<path d="M441.9,306.8A6.9,1.9 0 0 0 455.6,306.8" fill="none" stroke="#cfeaf6" stroke-width="0.6" opacity="0.8"/>
<path d="M351,306V313.8A7.1,2.1 0 0 0 365.2,313.8V306A7.1,2.1 0 0 0 351,306Z" fill="#98d1ed"/>
<path d="M351,308.3V313.8A7.1,2.1 0 0 0 365.2,313.8V308.3A7.1,2.1 0 0 1 351,308.3Z" fill="#42a4dd"/>
<ellipse cx="358.1" cy="308.3" rx="7.1" ry="2.1" fill="#56b5e6"/>
<path d="M351,313.8A7.1,2.1 0 0 0 365.2,313.8" fill="none" stroke="#cfeaf6" stroke-width="0.6" opacity="0.8"/>
<path d="M369.3,306V313.8A7.1,2.1 0 0 0 383.5,313.8V306A7.1,2.1 0 0 0 369.3,306Z" fill="#98d1ed"/>
<path d="M369.3,308.3V313.8A7.1,2.1 0 0 0 383.5,313.8V308.3A7.1,2.1 0 0 1 369.3,308.3Z" fill="#42a4dd"/>
<ellipse cx="376.4" cy="308.3" rx="7.1" ry="2.1" fill="#56b5e6"/>
<path d="M369.3,313.8A7.1,2.1 0 0 0 383.5,313.8" fill="none" stroke="#cfeaf6" stroke-width="0.6" opacity="0.8"/>
<path d="M387.6,306V313.8A7.1,2.1 0 0 0 401.8,313.8V306A7.1,2.1 0 0 0 387.6,306Z" fill="#98d1ed"/>
<path d="M387.6,308.3V313.8A7.1,2.1 0 0 0 401.8,313.8V308.3A7.1,2.1 0 0 1 387.6,308.3Z" fill="#42a4dd"/>
<ellipse cx="394.7" cy="308.3" rx="7.1" ry="2.1" fill="#56b5e6"/>
<path d="M387.6,313.8A7.1,2.1 0 0 0 401.8,313.8" fill="none" stroke="#cfeaf6" stroke-width="0.6" opacity="0.8"/>
<path d="M405.9,306V313.8A7.1,2.1 0 0 0 420.1,313.8V306A7.1,2.1 0 0 0 405.9,306Z" fill="#98d1ed"/>
<path d="M405.9,308.3V313.8A7.1,2.1 0 0 0 420.1,313.8V308.3A7.1,2.1 0 0 1 405.9,308.3Z" fill="#42a4dd"/>
<ellipse cx="413" cy="308.3" rx="7.1" ry="2.1" fill="#56b5e6"/>
<path d="M405.9,313.8A7.1,2.1 0 0 0 420.1,313.8" fill="none" stroke="#cfeaf6" stroke-width="0.6" opacity="0.8"/>
<path d="M424.2,306V313.8A7.1,2.1 0 0 0 438.4,313.8V306A7.1,2.1 0 0 0 424.2,306Z" fill="#98d1ed"/>
<path d="M424.2,308.3V313.8A7.1,2.1 0 0 0 438.4,313.8V308.3A7.1,2.1 0 0 1 424.2,308.3Z" fill="#42a4dd"/>
<ellipse cx="431.3" cy="308.3" rx="7.1" ry="2.1" fill="#56b5e6"/>
<path d="M424.2,313.8A7.1,2.1 0 0 0 438.4,313.8" fill="none" stroke="#cfeaf6" stroke-width="0.6" opacity="0.8"/>
<path d="M442.5,306V313.8A7.1,2.1 0 0 0 456.7,313.8V306A7.1,2.1 0 0 0 442.5,306Z" fill="#98d1ed"/>
<path d="M442.5,308.3V313.8A7.1,2.1 0 0 0 456.7,313.8V308.3A7.1,2.1 0 0 1 442.5,308.3Z" fill="#42a4dd"/>
<ellipse cx="449.6" cy="308.3" rx="7.1" ry="2.1" fill="#56b5e6"/>
<path d="M442.5,313.8A7.1,2.1 0 0 0 456.7,313.8" fill="none" stroke="#cfeaf6" stroke-width="0.6" opacity="0.8"/>
<path d="M349.9,313.2V325.8A7.3,2.4 0 0 0 364.5,325.8V313.2A7.3,2.4 0 0 0 349.9,313.2Z" fill="#98d1ed"/>
<path d="M349.9,315.6V325.8A7.3,2.4 0 0 0 364.5,325.8V315.6A7.3,2.4 0 0 1 349.9,315.6Z" fill="#42a4dd"/>
<ellipse cx="357.2" cy="315.6" rx="7.3" ry="2.4" fill="#56b5e6"/>
<path d="M349.9,325.8A7.3,2.4 0 0 0 364.5,325.8" fill="none" stroke="#cfeaf6" stroke-width="0.6" opacity="0.8"/>
<path d="M368.6,313.2V325.8A7.3,2.4 0 0 0 383.2,325.8V313.2A7.3,2.4 0 0 0 368.6,313.2Z" fill="#98d1ed"/>
<path d="M368.6,315.6V325.8A7.3,2.4 0 0 0 383.2,325.8V315.6A7.3,2.4 0 0 1 368.6,315.6Z" fill="#42a4dd"/>
<ellipse cx="375.9" cy="315.6" rx="7.3" ry="2.4" fill="#56b5e6"/>
<path d="M368.6,325.8A7.3,2.4 0 0 0 383.2,325.8" fill="none" stroke="#cfeaf6" stroke-width="0.6" opacity="0.8"/>
<path d="M387.3,313.2V325.8A7.3,2.4 0 0 0 401.9,325.8V313.2A7.3,2.4 0 0 0 387.3,313.2Z" fill="#98d1ed"/>
<path d="M387.3,315.6V325.8A7.3,2.4 0 0 0 401.9,325.8V315.6A7.3,2.4 0 0 1 387.3,315.6Z" fill="#42a4dd"/>
<ellipse cx="394.6" cy="315.6" rx="7.3" ry="2.4" fill="#56b5e6"/>
<path d="M387.3,325.8A7.3,2.4 0 0 0 401.9,325.8" fill="none" stroke="#cfeaf6" stroke-width="0.6" opacity="0.8"/>
<path d="M406,313.2V325.8A7.3,2.4 0 0 0 420.6,325.8V313.2A7.3,2.4 0 0 0 406,313.2Z" fill="#98d1ed"/>
<path d="M406,315.6V325.8A7.3,2.4 0 0 0 420.6,325.8V315.6A7.3,2.4 0 0 1 406,315.6Z" fill="#42a4dd"/>
<ellipse cx="413.3" cy="315.6" rx="7.3" ry="2.4" fill="#56b5e6"/>
<path d="M406,325.8A7.3,2.4 0 0 0 420.6,325.8" fill="none" stroke="#cfeaf6" stroke-width="0.6" opacity="0.8"/>
<path d="M424.7,313.2V325.8A7.3,2.4 0 0 0 439.3,325.8V313.2A7.3,2.4 0 0 0 424.7,313.2Z" fill="#98d1ed"/>
<path d="M424.7,315.6V325.8A7.3,2.4 0 0 0 439.3,325.8V315.6A7.3,2.4 0 0 1 424.7,315.6Z" fill="#42a4dd"/>
<ellipse cx="432" cy="315.6" rx="7.3" ry="2.4" fill="#56b5e6"/>
<path d="M424.7,325.8A7.3,2.4 0 0 0 439.3,325.8" fill="none" stroke="#cfeaf6" stroke-width="0.6" opacity="0.8"/>
<path d="M443.4,313.2V325.8A7.3,2.4 0 0 0 458,325.8V313.2A7.3,2.4 0 0 0 443.4,313.2Z" fill="#98d1ed"/>
<path d="M443.4,315.6V325.8A7.3,2.4 0 0 0 458,325.8V315.6A7.3,2.4 0 0 1 443.4,315.6Z" fill="#42a4dd"/>
<ellipse cx="450.7" cy="315.6" rx="7.3" ry="2.4" fill="#56b5e6"/>
<path d="M443.4,325.8A7.3,2.4 0 0 0 458,325.8" fill="none" stroke="#cfeaf6" stroke-width="0.6" opacity="0.8"/>
<path d="M343,320.8L466.4,320.8L466.1,330.4L343.3,330.4Z" fill="#a8d6ec" opacity="0.45"/>
<path d="M413,307.7L413,291.2" stroke="#3249c2" stroke-width="2.4" stroke-linecap="round"/>
<path d="M415.6,307.7L415.6,291.2" stroke="#3249c2" stroke-width="2.4" stroke-linecap="round"/>
<path d="M412.8,291L401.3,279" stroke="#3249c2" stroke-width="2.4" stroke-linecap="round"/>
<path d="M415.2,289.8L404.8,277.2" stroke="#3249c2" stroke-width="2.4" stroke-linecap="round"/>
<path d="M415.8,290.8L422.8,280.7" stroke="#3249c2" stroke-width="2.4" stroke-linecap="round"/>
<path d="M419.1,292.2L425.9,282.8" stroke="#3249c2" stroke-width="2.4" stroke-linecap="round"/>
<path d="M445.5,239.6L445.5,255.6" stroke="#b24ac1" stroke-width="2.4" stroke-linecap="round"/>
<path d="M449.2,239.6L449.2,255.2" stroke="#b24ac1" stroke-width="2.4" stroke-linecap="round"/>
<path d="M445.5,255.8L435.3,265.2" stroke="#b24ac1" stroke-width="2.4" stroke-linecap="round"/>
<path d="M439.8,255.1L433.1,262.6" stroke="#b24ac1" stroke-width="2.4" stroke-linecap="round"/>
<path d="M448.1,256L453.7,270.2" stroke="#b24ac1" stroke-width="2.4" stroke-linecap="round"/>
<path d="M451.2,255.8L457,269" stroke="#b24ac1" stroke-width="2.4" stroke-linecap="round"/>
<path d="M445.5,239.6L445.5,223.8" stroke="#2c9a86" stroke-width="2.4" stroke-linecap="round"/>
<path d="M449.3,239.6L449.3,226.2" stroke="#2c9a86" stroke-width="2.4" stroke-linecap="round"/>
<path d="M445.5,223.8L453.9,209.4" stroke="#2c9a86" stroke-width="2.4" stroke-linecap="round"/>
<path d="M448.3,225L456.9,211" stroke="#2c9a86" stroke-width="2.4" stroke-linecap="round"/>
<path d="M427.3,225.1L441,219.7" stroke="#2c9a86" stroke-width="2.4" stroke-linecap="round"/>
<path d="M428.6,229.1L444.3,223" stroke="#2c9a86" stroke-width="2.4" stroke-linecap="round"/>
<path d="M428.6,262.4L437.7,268.1L439.2,275.8L430.5,282.9L422.4,278.6L419.3,269.5Z" fill="#28d0ce"/>
<path d="M428.6,262.4L428.2,270L419.3,269.5Z" fill="#22eceb"/>
<path d="M428.6,262.4L437.7,268.1L428.2,270Z" fill="#24e2e2"/>
<path d="M419.3,269.5L428.2,270L423.8,277.7L422.4,278.6Z" fill="#2bd6d4"/>
<path d="M437.7,268.1L439.2,275.8L433.4,277.2L428.2,270Z" fill="#29d0ce"/>
<path d="M428.2,270L433.4,277.2L423.8,277.7Z" fill="#1fb4b1"/>
<path d="M422.4,278.6L423.8,277.7L430.5,282.9Z" fill="#26c6c4"/>
<path d="M423.8,277.7L433.4,277.2L430.5,282.9Z" fill="#23bcba"/>
<path d="M433.4,277.2L439.2,275.8L430.5,282.9Z" fill="#28cac8"/>
<path d="M462.3,185.6L464.9,185.6Q468.5,185.6 468.5,189.2L468.5,190.6Q468.5,192.8 470.7,192.8L472.1,192.8Q475.7,192.8 475.7,196.4L475.7,199Q475.7,202.6 472.1,202.6L470.7,202.6Q468.5,202.6 468.5,204.8L468.5,206.2Q468.5,209.8 464.9,209.8L462.3,209.8Q458.7,209.8 458.7,206.2L458.7,204.8Q458.7,202.6 456.5,202.6L455.1,202.6Q451.5,202.6 451.5,199L451.5,196.4Q451.5,192.8 455.1,192.8L456.5,192.8Q458.7,192.8 458.7,190.6L458.7,189.2Q458.7,185.6 462.3,185.6Z" fill="#4fb5cb"/>
<circle cx="455.6" cy="206.1" r="4.1" fill="url(#gBio)"/>
<path d="M311,191.4C312,191.7 314.3,192.7 317,193.2C319.7,193.7 323.2,194.3 327,194.2C330.8,194.1 335.7,192.6 339.5,192.4C343.3,192.2 346.4,191.9 350,193C353.6,194.1 357.4,196.9 361,199.2C364.6,201.4 368.1,204.9 371.7,206.5C375.3,208.1 379.2,209.3 382.5,209C385.8,208.7 389.4,206.5 391.5,204.6C393.6,202.7 394.2,200.7 395.3,197.4C396.4,194.1 396.7,189 397.8,184.8C398.9,180.6 401.2,176.4 402.2,172.3C403.2,168.2 404.1,163.1 404,160C403.9,156.9 402.2,154.8 401.8,153.8" fill="none" stroke="#3290c6" stroke-width="2.9" stroke-linecap="round" stroke-linejoin="round" />
<path d="M311,191.4C312,191.7 314.3,192.7 317,193.2C319.7,193.7 323.2,194.3 327,194.2C330.8,194.1 335.7,192.6 339.5,192.4C343.3,192.2 346.4,191.9 350,193C353.6,194.1 357.4,196.9 361,199.2C364.6,201.4 368.1,204.9 371.7,206.5C375.3,208.1 379.2,209.3 382.5,209C385.8,208.7 389.4,206.5 391.5,204.6C393.6,202.7 394.2,200.7 395.3,197.4C396.4,194.1 396.7,189 397.8,184.8C398.9,180.6 401.2,176.4 402.2,172.3C403.2,168.2 404.1,163.1 404,160C403.9,156.9 402.2,154.8 401.8,153.8" fill="none" stroke="#5fbde4" stroke-width="1.4" stroke-linecap="round" stroke-linejoin="round" transform="translate(-0.2,-0.45)" />
<path d="M403.4,161.2L394.9,161.6" stroke="#4aa3d6" stroke-width="0.9"/>
<path d="M394.9,161.6L389.3,161.8" stroke="#e79aac" stroke-width="0.9"/>
<path d="M402.3,158.4L396.3,159.3" stroke="#4aa3d6" stroke-width="0.9"/>
<path d="M396.3,159.3L392.4,159.9" stroke="#e79aac" stroke-width="0.9"/>
<path d="M400.2,156L397.1,156.8" stroke="#4aa3d6" stroke-width="0.9"/>
<path d="M397.1,156.8L395.1,157.3" stroke="#e79aac" stroke-width="0.9"/>
<path d="M398.3,151.1L396.2,152.1" stroke="#d8607a" stroke-width="0.9"/>
<path d="M396.2,152.1L394.7,152.8" stroke="#7fc1e6" stroke-width="0.9"/>
<path d="M398.7,147.8L394.6,150.2" stroke="#d8607a" stroke-width="0.9"/>
<path d="M394.6,150.2L392,151.8" stroke="#7fc1e6" stroke-width="0.9"/>
<path d="M398.1,144.7L393,148.5" stroke="#d8607a" stroke-width="0.9"/>
<path d="M393,148.5L389.6,151" stroke="#7fc1e6" stroke-width="0.9"/>
<path d="M396.8,142L391.4,146.9" stroke="#d8607a" stroke-width="0.9"/>
<path d="M391.4,146.9L387.8,150.1" stroke="#7fc1e6" stroke-width="0.9"/>
<path d="M394.6,139.8L389.7,145.2" stroke="#d8607a" stroke-width="0.9"/>
<path d="M389.7,145.2L386.5,148.8" stroke="#7fc1e6" stroke-width="0.9"/>
<path d="M391.9,138.5L388.1,143.6" stroke="#d8607a" stroke-width="0.9"/>
<path d="M388.1,143.6L385.6,147" stroke="#7fc1e6" stroke-width="0.9"/>
<path d="M388.8,137.9L386.4,142" stroke="#d8607a" stroke-width="0.9"/>
<path d="M386.4,142L384.8,144.6" stroke="#7fc1e6" stroke-width="0.9"/>
<path d="M385.5,138.3L384.5,140.4" stroke="#d8607a" stroke-width="0.9"/>
<path d="M384.5,140.4L383.8,141.9" stroke="#7fc1e6" stroke-width="0.9"/>
<path d="M380.6,136.4L379.8,139.5" stroke="#4aa3d6" stroke-width="0.9"/>
<path d="M379.8,139.5L379.3,141.5" stroke="#e79aac" stroke-width="0.9"/>
<path d="M378.2,134.3L377.3,140.3" stroke="#4aa3d6" stroke-width="0.9"/>
<path d="M377.3,140.3L376.7,144.2" stroke="#e79aac" stroke-width="0.9"/>
<path d="M375.4,133.2L375,141.7" stroke="#4aa3d6" stroke-width="0.9"/>
<path d="M375,141.7L374.8,147.3" stroke="#e79aac" stroke-width="0.9"/>
<path d="M372.6,133.2L373,141.7" stroke="#4aa3d6" stroke-width="0.9"/>
<path d="M373,141.7L373.2,147.3" stroke="#e79aac" stroke-width="0.9"/>
<path d="M369.8,134.3L370.7,140.3" stroke="#4aa3d6" stroke-width="0.9"/>
<path d="M370.7,140.3L371.3,144.2" stroke="#e79aac" stroke-width="0.9"/>
<path d="M367.4,136.4L368.2,139.5" stroke="#4aa3d6" stroke-width="0.9"/>
<path d="M368.2,139.5L368.7,141.5" stroke="#e79aac" stroke-width="0.9"/>
<path d="M362.5,138.3L363.5,140.4" stroke="#d8607a" stroke-width="0.9"/>
<path d="M363.5,140.4L364.2,141.9" stroke="#7fc1e6" stroke-width="0.9"/>
<path d="M359.2,137.9L361.6,142" stroke="#d8607a" stroke-width="0.9"/>
<path d="M361.6,142L363.2,144.6" stroke="#7fc1e6" stroke-width="0.9"/>
<path d="M356.1,138.5L359.9,143.6" stroke="#d8607a" stroke-width="0.9"/>
<path d="M359.9,143.6L362.4,147" stroke="#7fc1e6" stroke-width="0.9"/>
<path d="M353.4,139.8L358.3,145.2" stroke="#d8607a" stroke-width="0.9"/>
<path d="M358.3,145.2L361.5,148.8" stroke="#7fc1e6" stroke-width="0.9"/>
<path d="M351.2,142L356.6,146.9" stroke="#d8607a" stroke-width="0.9"/>
<path d="M356.6,146.9L360.2,150.1" stroke="#7fc1e6" stroke-width="0.9"/>
<path d="M349.9,144.7L355,148.5" stroke="#d8607a" stroke-width="0.9"/>
<path d="M355,148.5L358.4,151" stroke="#7fc1e6" stroke-width="0.9"/>
<path d="M349.3,147.8L353.4,150.2" stroke="#d8607a" stroke-width="0.9"/>
<path d="M353.4,150.2L356,151.8" stroke="#7fc1e6" stroke-width="0.9"/>
<path d="M349.7,151.1L351.8,152.1" stroke="#d8607a" stroke-width="0.9"/>
<path d="M351.8,152.1L353.3,152.8" stroke="#7fc1e6" stroke-width="0.9"/>
<path d="M347.8,156L350.9,156.8" stroke="#4aa3d6" stroke-width="0.9"/>
<path d="M350.9,156.8L352.9,157.3" stroke="#e79aac" stroke-width="0.9"/>
<path d="M345.7,158.4L351.7,159.3" stroke="#4aa3d6" stroke-width="0.9"/>
<path d="M351.7,159.3L355.6,159.9" stroke="#e79aac" stroke-width="0.9"/>
<path d="M344.6,161.2L353.1,161.6" stroke="#4aa3d6" stroke-width="0.9"/>
<path d="M353.1,161.6L358.7,161.8" stroke="#e79aac" stroke-width="0.9"/>
<path d="M344.6,164L353.1,163.6" stroke="#4aa3d6" stroke-width="0.9"/>
<path d="M353.1,163.6L358.7,163.4" stroke="#e79aac" stroke-width="0.9"/>
<path d="M345.7,166.8L351.7,165.9" stroke="#4aa3d6" stroke-width="0.9"/>
<path d="M351.7,165.9L355.6,165.3" stroke="#e79aac" stroke-width="0.9"/>
<path d="M347.8,169.2L350.9,168.4" stroke="#4aa3d6" stroke-width="0.9"/>
<path d="M350.9,168.4L352.9,167.9" stroke="#e79aac" stroke-width="0.9"/>
<path d="M349.7,174.1L351.8,173.1" stroke="#d8607a" stroke-width="0.9"/>
<path d="M351.8,173.1L353.3,172.4" stroke="#7fc1e6" stroke-width="0.9"/>
<path d="M349.3,177.4L353.4,175" stroke="#d8607a" stroke-width="0.9"/>
<path d="M353.4,175L356,173.4" stroke="#7fc1e6" stroke-width="0.9"/>
<path d="M349.9,180.5L355,176.7" stroke="#d8607a" stroke-width="0.9"/>
<path d="M355,176.7L358.4,174.2" stroke="#7fc1e6" stroke-width="0.9"/>
<path d="M351.2,183.2L356.6,178.3" stroke="#d8607a" stroke-width="0.9"/>
<path d="M356.6,178.3L360.2,175.1" stroke="#7fc1e6" stroke-width="0.9"/>
<path d="M353.4,185.4L358.3,180" stroke="#d8607a" stroke-width="0.9"/>
<path d="M358.3,180L361.5,176.4" stroke="#7fc1e6" stroke-width="0.9"/>
<path d="M356.1,186.7L359.9,181.6" stroke="#d8607a" stroke-width="0.9"/>
<path d="M359.9,181.6L362.4,178.2" stroke="#7fc1e6" stroke-width="0.9"/>
<path d="M359.2,187.3L361.6,183.2" stroke="#d8607a" stroke-width="0.9"/>
<path d="M361.6,183.2L363.2,180.6" stroke="#7fc1e6" stroke-width="0.9"/>
<path d="M362.5,186.9L363.5,184.8" stroke="#d8607a" stroke-width="0.9"/>
<path d="M363.5,184.8L364.2,183.3" stroke="#7fc1e6" stroke-width="0.9"/>
<path d="M367.4,188.8L368.2,185.7" stroke="#4aa3d6" stroke-width="0.9"/>
<path d="M368.2,185.7L368.7,183.7" stroke="#e79aac" stroke-width="0.9"/>
<path d="M369.8,190.9L370.7,184.9" stroke="#4aa3d6" stroke-width="0.9"/>
<path d="M370.7,184.9L371.3,181" stroke="#e79aac" stroke-width="0.9"/>
<path d="M372.6,192L373,183.5" stroke="#4aa3d6" stroke-width="0.9"/>
<path d="M373,183.5L373.2,177.9" stroke="#e79aac" stroke-width="0.9"/>
<path d="M375.4,192L375,183.5" stroke="#4aa3d6" stroke-width="0.9"/>
<path d="M375,183.5L374.8,177.9" stroke="#e79aac" stroke-width="0.9"/>
<path d="M378.2,190.9L377.3,184.9" stroke="#4aa3d6" stroke-width="0.9"/>
<path d="M377.3,184.9L376.7,181" stroke="#e79aac" stroke-width="0.9"/>
<path d="M380.6,188.8L379.8,185.7" stroke="#4aa3d6" stroke-width="0.9"/>
<path d="M379.8,185.7L379.3,183.7" stroke="#e79aac" stroke-width="0.9"/>
<path d="M385.5,186.9L384.5,184.8" stroke="#d8607a" stroke-width="0.9"/>
<path d="M384.5,184.8L383.8,183.3" stroke="#7fc1e6" stroke-width="0.9"/>
<path d="M388.8,187.3L386.4,183.2" stroke="#d8607a" stroke-width="0.9"/>
<path d="M386.4,183.2L384.8,180.6" stroke="#7fc1e6" stroke-width="0.9"/>
<path d="M391.9,186.7L388.1,181.6" stroke="#d8607a" stroke-width="0.9"/>
<path d="M388.1,181.6L385.6,178.2" stroke="#7fc1e6" stroke-width="0.9"/>
<path d="M394.6,185.4L389.7,180" stroke="#d8607a" stroke-width="0.9"/>
<path d="M389.7,180L386.5,176.4" stroke="#7fc1e6" stroke-width="0.9"/>
<path d="M396.8,183.2L391.4,178.3" stroke="#d8607a" stroke-width="0.9"/>
<path d="M391.4,178.3L387.8,175.1" stroke="#7fc1e6" stroke-width="0.9"/>
<path d="M398.1,180.5L393,176.7" stroke="#d8607a" stroke-width="0.9"/>
<path d="M393,176.7L389.6,174.2" stroke="#7fc1e6" stroke-width="0.9"/>
<path d="M398.7,177.4L394.6,175" stroke="#d8607a" stroke-width="0.9"/>
<path d="M394.6,175L392,173.4" stroke="#7fc1e6" stroke-width="0.9"/>
<path d="M398.3,174.1L396.2,173.1" stroke="#d8607a" stroke-width="0.9"/>
<path d="M396.2,173.1L394.7,172.4" stroke="#7fc1e6" stroke-width="0.9"/>
<path d="M400.2,169.2L397.1,168.4" stroke="#4aa3d6" stroke-width="0.9"/>
<path d="M397.1,168.4L395.1,167.9" stroke="#e79aac" stroke-width="0.9"/>
<path d="M402.3,166.8L396.3,165.9" stroke="#4aa3d6" stroke-width="0.9"/>
<path d="M396.3,165.9L392.4,165.3" stroke="#e79aac" stroke-width="0.9"/>
<path d="M403.4,164L394.9,163.6" stroke="#4aa3d6" stroke-width="0.9"/>
<path d="M394.9,163.6L389.3,163.4" stroke="#e79aac" stroke-width="0.9"/>
<path d="M387.6,162.6L389.4,161.8L391.1,160.8L392.7,159.6L394.1,158.3L395.4,156.9L396.5,155.3L397.4,153.6L398.1,151.9L398.5,150.1L398.7,148.4L398.6,146.6L398.2,145L397.6,143.5L396.8,142.1L395.8,140.8L394.5,139.8L393.1,139L391.6,138.4L390,138L388.2,137.9L386.5,138.1L384.7,138.5L383,139.2L381.3,140.1L379.7,141.2L378.3,142.5L377,143.9L375.8,145.5L374.8,147.2L374,149L373.2,147.2L372.2,145.5L371,143.9L369.7,142.5L368.3,141.2L366.7,140.1L365,139.2L363.3,138.5L361.5,138.1L359.8,137.9L358,138L356.4,138.4L354.9,139L353.5,139.8L352.2,140.8L351.2,142.1L350.4,143.5L349.8,145L349.4,146.6L349.3,148.4L349.5,150.1L349.9,151.9L350.6,153.6L351.5,155.3L352.6,156.9L353.9,158.3L355.3,159.6L356.9,160.8L358.6,161.8L360.4,162.6L358.6,163.4L356.9,164.4L355.3,165.6L353.9,166.9L352.6,168.3L351.5,169.9L350.6,171.6L349.9,173.3L349.5,175.1L349.3,176.8L349.4,178.6L349.8,180.2L350.4,181.7L351.2,183.1L352.2,184.4L353.5,185.4L354.9,186.2L356.4,186.8L358,187.2L359.8,187.3L361.5,187.1L363.3,186.7L365,186L366.7,185.1L368.3,184L369.7,182.7L371,181.3L372.2,179.7L373.2,178L374,176.2L374.8,178L375.8,179.7L377,181.3L378.3,182.7L379.7,184L381.3,185.1L383,186L384.7,186.7L386.5,187.1L388.2,187.3L390,187.2L391.6,186.8L393.1,186.2L394.5,185.4L395.8,184.4L396.8,183.1L397.6,181.7L398.2,180.2L398.6,178.6L398.7,176.8L398.5,175.1L398.1,173.3L397.4,171.6L396.5,169.9L395.4,168.3L394.1,166.9L392.7,165.6L391.1,164.4L389.4,163.4Z" fill="none" stroke="#c2566e" stroke-width="2.7" stroke-linecap="round" stroke-linejoin="round" />
<path d="M387.6,162.6L389.4,161.8L391.1,160.8L392.7,159.6L394.1,158.3L395.4,156.9L396.5,155.3L397.4,153.6L398.1,151.9L398.5,150.1L398.7,148.4L398.6,146.6L398.2,145L397.6,143.5L396.8,142.1L395.8,140.8L394.5,139.8L393.1,139L391.6,138.4L390,138L388.2,137.9L386.5,138.1L384.7,138.5L383,139.2L381.3,140.1L379.7,141.2L378.3,142.5L377,143.9L375.8,145.5L374.8,147.2L374,149L373.2,147.2L372.2,145.5L371,143.9L369.7,142.5L368.3,141.2L366.7,140.1L365,139.2L363.3,138.5L361.5,138.1L359.8,137.9L358,138L356.4,138.4L354.9,139L353.5,139.8L352.2,140.8L351.2,142.1L350.4,143.5L349.8,145L349.4,146.6L349.3,148.4L349.5,150.1L349.9,151.9L350.6,153.6L351.5,155.3L352.6,156.9L353.9,158.3L355.3,159.6L356.9,160.8L358.6,161.8L360.4,162.6L358.6,163.4L356.9,164.4L355.3,165.6L353.9,166.9L352.6,168.3L351.5,169.9L350.6,171.6L349.9,173.3L349.5,175.1L349.3,176.8L349.4,178.6L349.8,180.2L350.4,181.7L351.2,183.1L352.2,184.4L353.5,185.4L354.9,186.2L356.4,186.8L358,187.2L359.8,187.3L361.5,187.1L363.3,186.7L365,186L366.7,185.1L368.3,184L369.7,182.7L371,181.3L372.2,179.7L373.2,178L374,176.2L374.8,178L375.8,179.7L377,181.3L378.3,182.7L379.7,184L381.3,185.1L383,186L384.7,186.7L386.5,187.1L388.2,187.3L390,187.2L391.6,186.8L393.1,186.2L394.5,185.4L395.8,184.4L396.8,183.1L397.6,181.7L398.2,180.2L398.6,178.6L398.7,176.8L398.5,175.1L398.1,173.3L397.4,171.6L396.5,169.9L395.4,168.3L394.1,166.9L392.7,165.6L391.1,164.4L389.4,163.4Z" fill="none" stroke="#dc8497" stroke-width="1.4" stroke-linecap="round" stroke-linejoin="round" transform="translate(-0.2,-0.45)" />
<path d="M393.4,166.2L392.7,165.6L391.9,165L391.1,164.4L390.2,163.9L389.4,163.4L388.5,163L387.6,162.6L388.5,162.2L389.4,161.8L390.2,161.3L391.1,160.8L391.9,160.2L392.7,159.6L393.4,159" fill="none" stroke="#ee9fb2" stroke-width="2.3" stroke-linecap="round" stroke-linejoin="round"/>
<path d="M377.6,143.2L377,143.9L376.4,144.7L375.8,145.5L375.3,146.4L374.8,147.2L374.4,148.1L374,149L373.6,148.1L373.2,147.2L372.7,146.4L372.2,145.5L371.6,144.7L371,143.9L370.4,143.2" fill="none" stroke="#ee9fb2" stroke-width="2.3" stroke-linecap="round" stroke-linejoin="round"/>
<path d="M354.6,159L355.3,159.6L356.1,160.2L356.9,160.8L357.8,161.3L358.6,161.8L359.5,162.2L360.4,162.6L359.5,163L358.6,163.4L357.8,163.9L356.9,164.4L356.1,165L355.3,165.6L354.6,166.2" fill="none" stroke="#ee9fb2" stroke-width="2.3" stroke-linecap="round" stroke-linejoin="round"/>
<path d="M370.4,182L371,181.3L371.6,180.5L372.2,179.7L372.7,178.8L373.2,178L373.6,177.1L374,176.2L374.4,177.1L374.8,178L375.3,178.8L375.8,179.7L376.4,180.5L377,181.3L377.6,182" fill="none" stroke="#ee9fb2" stroke-width="2.3" stroke-linecap="round" stroke-linejoin="round"/>
<path d="M403.5,162.6L403.3,161.1L402.9,159.6L402.1,158.1L401.1,156.8L399.8,155.7L398.4,154.7L396.9,153.8L395.4,153.1L393.9,152.5L392.4,152L391,151.5L389.8,151.1L388.7,150.7L387.8,150.1L387.1,149.5L386.5,148.8L385.9,147.9L385.5,146.8L385.1,145.6L384.6,144.2L384.1,142.7L383.5,141.2L382.8,139.7L381.9,138.2L380.9,136.8L379.8,135.5L378.5,134.5L377,133.7L375.5,133.3L374,133.1L372.5,133.3L371,133.7L369.5,134.5L368.2,135.5L367.1,136.8L366.1,138.2L365.2,139.7L364.5,141.2L363.9,142.7L363.4,144.2L362.9,145.6L362.5,146.8L362.1,147.9L361.5,148.8L360.9,149.5L360.2,150.1L359.3,150.7L358.2,151.1L357,151.5L355.6,152L354.1,152.5L352.6,153.1L351.1,153.8L349.6,154.7L348.2,155.7L346.9,156.8L345.9,158.1L345.1,159.6L344.7,161.1L344.5,162.6L344.7,164.1L345.1,165.6L345.9,167.1L346.9,168.4L348.2,169.5L349.6,170.5L351.1,171.4L352.6,172.1L354.1,172.7L355.6,173.2L357,173.7L358.2,174.1L359.3,174.5L360.2,175.1L360.9,175.7L361.5,176.4L362.1,177.3L362.5,178.4L362.9,179.6L363.4,181L363.9,182.5L364.5,184L365.2,185.5L366.1,187L367.1,188.4L368.2,189.7L369.5,190.7L371,191.5L372.5,191.9L374,192.1L375.5,191.9L377,191.5L378.5,190.7L379.8,189.7L380.9,188.4L381.9,187L382.8,185.5L383.5,184L384.1,182.5L384.6,181L385.1,179.6L385.5,178.4L385.9,177.3L386.5,176.4L387.1,175.7L387.8,175.1L388.7,174.5L389.8,174.1L391,173.7L392.4,173.2L393.9,172.7L395.4,172.1L396.9,171.4L398.4,170.5L399.8,169.5L401.1,168.4L402.1,167.1L402.9,165.6L403.3,164.1Z" fill="none" stroke="#3290c6" stroke-width="2.7" stroke-linecap="round" stroke-linejoin="round" />
<path d="M403.5,162.6L403.3,161.1L402.9,159.6L402.1,158.1L401.1,156.8L399.8,155.7L398.4,154.7L396.9,153.8L395.4,153.1L393.9,152.5L392.4,152L391,151.5L389.8,151.1L388.7,150.7L387.8,150.1L387.1,149.5L386.5,148.8L385.9,147.9L385.5,146.8L385.1,145.6L384.6,144.2L384.1,142.7L383.5,141.2L382.8,139.7L381.9,138.2L380.9,136.8L379.8,135.5L378.5,134.5L377,133.7L375.5,133.3L374,133.1L372.5,133.3L371,133.7L369.5,134.5L368.2,135.5L367.1,136.8L366.1,138.2L365.2,139.7L364.5,141.2L363.9,142.7L363.4,144.2L362.9,145.6L362.5,146.8L362.1,147.9L361.5,148.8L360.9,149.5L360.2,150.1L359.3,150.7L358.2,151.1L357,151.5L355.6,152L354.1,152.5L352.6,153.1L351.1,153.8L349.6,154.7L348.2,155.7L346.9,156.8L345.9,158.1L345.1,159.6L344.7,161.1L344.5,162.6L344.7,164.1L345.1,165.6L345.9,167.1L346.9,168.4L348.2,169.5L349.6,170.5L351.1,171.4L352.6,172.1L354.1,172.7L355.6,173.2L357,173.7L358.2,174.1L359.3,174.5L360.2,175.1L360.9,175.7L361.5,176.4L362.1,177.3L362.5,178.4L362.9,179.6L363.4,181L363.9,182.5L364.5,184L365.2,185.5L366.1,187L367.1,188.4L368.2,189.7L369.5,190.7L371,191.5L372.5,191.9L374,192.1L375.5,191.9L377,191.5L378.5,190.7L379.8,189.7L380.9,188.4L381.9,187L382.8,185.5L383.5,184L384.1,182.5L384.6,181L385.1,179.6L385.5,178.4L385.9,177.3L386.5,176.4L387.1,175.7L387.8,175.1L388.7,174.5L389.8,174.1L391,173.7L392.4,173.2L393.9,172.7L395.4,172.1L396.9,171.4L398.4,170.5L399.8,169.5L401.1,168.4L402.1,167.1L402.9,165.6L403.3,164.1Z" fill="none" stroke="#5fbde4" stroke-width="1.4" stroke-linecap="round" stroke-linejoin="round" transform="translate(-0.2,-0.45)" />
<g transform="translate(386.5,175.6) rotate(-30) scale(1.12)" filter="url(#fB)">
<path d="M-5.5,-6Q-4.5,-7.6 -1,-7.4L5,-5.6Q7,-4.6 6.2,-2.6L3,-1.4L2.6,1.2L6.4,2.4Q7.6,3.4 6.8,5.2L3.6,7.2Q1,8 -2,6.8L-5.6,3.6Q-7,0.5 -6.6,-3Z" fill="#86cf98"/>
<path d="M-5,-5.6L-1,-6.8L4.6,-5L0.4,-2.6L-5,-2.8Z" fill="#b9e6c0" opacity="0.85"/>
<path d="M0.4,-2.6L3,-1.4L2.6,1.2L6.4,2.4L3.4,6.6L-1.5,2Z" fill="#4f9f6e" opacity="0.6"/>
</g>
<circle cx="310.1" cy="191.2" r="4.2" fill="url(#gBio)"/>
<g filter="url(#fBlob)" transform="translate(0.4,1.6)"><path d="M493.2,137.2C494.9,135.5 497.4,133.9 500.3,133.1C503.2,132.2 506.9,132.2 510.5,132.1C514.1,132 518.3,132.5 521.7,132.7C525.1,132.9 527.9,132.9 530.8,133.5C533.7,134.1 536.6,134.7 539,136.2C541.4,137.7 543.3,140.1 545,142.3C546.7,144.5 547.6,146.9 549.1,149.4C550.6,151.9 552.9,154.8 554.2,157.5C555.6,160.2 556.5,162.9 557.2,165.6C557.9,168.3 558.5,170.9 558.3,173.8C558.1,176.7 557.4,179.9 556.2,182.9C555,185.9 553.3,189.3 551.1,192C548.9,194.7 545.9,197.3 543,199.2C540.1,201.1 536.9,202.4 533.9,203.2C530.9,204 527.6,204.4 524.7,204.2C521.8,204 519,203.3 516.6,202.2C514.2,201.1 512.9,198.7 510.5,197.6C508.1,196.5 505.4,196.1 502.4,195.6C499.3,195.1 494.9,195.5 492.2,194.4C489.5,193.3 487.3,191.1 486.1,189C484.9,186.9 484.8,184.1 485.1,181.9C485.5,179.7 486.3,177.2 488.2,175.8C490.1,174.5 493.8,174.2 496.3,173.8C498.8,173.4 502,174.2 503.4,173.4C504.8,172.6 504.9,170.3 504.4,168.7C503.9,167.1 502.3,164.9 500.3,163.6C498.3,162.2 494.6,161.8 492.2,160.6C489.8,159.4 487,158.2 486.1,156.5C485.2,154.8 486.4,152.6 487.1,150.4C487.8,148.2 489.2,145.5 490.2,143.3C491.2,141.1 491.5,138.9 493.2,137.2Z" fill="#a9c7e2" fill-opacity="0.78" stroke="#68a9e0" stroke-width="1.7" stroke-opacity="0.75"/></g>
<g filter="url(#fBlob)" transform="translate(0.4,1.6)"><path d="M577.4,137.2C579.1,135.5 581.6,133.9 584.5,133.1C587.4,132.2 591.1,132.2 594.7,132.1C598.3,132 602.5,132.5 605.9,132.7C609.3,132.9 612.1,132.9 615,133.5C617.9,134.1 620.8,134.7 623.2,136.2C625.6,137.7 627.5,140.1 629.2,142.3C630.9,144.5 631.8,146.9 633.3,149.4C634.8,151.9 637.1,154.8 638.4,157.5C639.8,160.2 640.7,162.9 641.4,165.6C642.1,168.3 642.7,170.9 642.5,173.8C642.3,176.7 641.6,179.9 640.4,182.9C639.2,185.9 637.5,189.3 635.3,192C633.1,194.7 630.1,197.3 627.2,199.2C624.3,201.1 621.1,202.4 618.1,203.2C615.1,204 611.8,204.4 608.9,204.2C606,204 603.2,203.3 600.8,202.2C598.4,201.1 597.1,198.7 594.7,197.6C592.3,196.5 589.7,196.1 586.6,195.6C583.5,195.1 579.1,195.5 576.4,194.4C573.7,193.3 571.5,191.1 570.3,189C569.1,186.9 569,184.1 569.3,181.9C569.7,179.7 570.5,177.2 572.4,175.8C574.3,174.5 578,174.2 580.5,173.8C583,173.4 586.2,174.2 587.6,173.4C589,172.6 589.1,170.3 588.6,168.7C588.1,167.1 586.5,164.9 584.5,163.6C582.5,162.2 578.8,161.8 576.4,160.6C574,159.4 571.2,158.2 570.3,156.5C569.5,154.8 570.6,152.6 571.3,150.4C572,148.2 573.4,145.5 574.4,143.3C575.4,141.1 575.7,138.9 577.4,137.2Z" fill="#a9c7e2" fill-opacity="0.78" stroke="#68a9e0" stroke-width="1.7" stroke-opacity="0.75"/></g>
<path d="M491,189C493.1,183.7 497.7,178.4 501.6,178.4C506.5,178.4 510.1,189.2 515,189.2C517.2,189.2 519.8,187.1 521,185" fill="none" stroke="#c4877a" stroke-width="1.7" stroke-linecap="round"/>
<path d="M522.6,181.5C523.3,179.9 524.8,178.3 526,178.3C529.3,178.3 533.2,178.9 535,179.6" fill="none" stroke="#c4877a" stroke-width="1.7" stroke-linecap="round"/>
<path d="M575.2,188.5C577.3,183.4 581.8,178.4 585.5,178.4C590.6,178.4 594.4,189.2 599.5,189.2C601.6,189.2 604.2,187.1 605.4,185" fill="none" stroke="#c4877a" stroke-width="1.7" stroke-linecap="round"/>
<path d="M606.4,181.5C607.1,179.9 608.6,178.3 609.8,178.3C613,178.3 616.9,178.9 618.7,179.6" fill="none" stroke="#c4877a" stroke-width="1.7" stroke-linecap="round"/>
<path d="M495.5,180V189.5" stroke="#c4877a" stroke-width="0.8"/>
<path d="M501.6,180V189.5" stroke="#c4877a" stroke-width="0.8"/>
<path d="M508,180V189.5" stroke="#c4877a" stroke-width="0.8"/>
<path d="M518.5,180V189.5" stroke="#c4877a" stroke-width="0.8"/>
<path d="M579.5,180V189.5" stroke="#c4877a" stroke-width="0.8"/>
<path d="M585.5,180V189.5" stroke="#c4877a" stroke-width="0.8"/>
<path d="M592,180V189.5" stroke="#c4877a" stroke-width="0.8"/>
<path d="M603,180V189.5" stroke="#c4877a" stroke-width="0.8"/>
<path d="M532.9,144H540.1" stroke="#c4877a" stroke-width="0.8"/>
<path d="M529.9,146.9H543.1" stroke="#c4877a" stroke-width="0.8"/>
<path d="M530.3,149.8H542.7" stroke="#c4877a" stroke-width="0.8"/>
<path d="M533.9,152.7H539.1" stroke="#c4877a" stroke-width="0.8"/>
<path d="M538.9,155.6H534.1" stroke="#c4877a" stroke-width="0.8"/>
<path d="M542.6,158.5H530.4" stroke="#c4877a" stroke-width="0.8"/>
<path d="M543.2,161.4H529.8" stroke="#c4877a" stroke-width="0.8"/>
<path d="M540.3,164.3H532.7" stroke="#c4877a" stroke-width="0.8"/>
<path d="M531.2,170.1H541.8" stroke="#c4877a" stroke-width="0.8"/>
<path d="M529.6,173H543.4" stroke="#c4877a" stroke-width="0.8"/>
<path d="M531.6,175.9H541.4" stroke="#c4877a" stroke-width="0.8"/>
<path d="M536.5,141.8L538.3,142.9L540,143.9L541.5,145L542.6,146L543.2,147.1L543.4,148.2L543.1,149.2L542.3,150.3L541.1,151.4L539.5,152.4L537.8,153.5L535.9,154.5L534.1,155.6L532.5,156.7L531.1,157.7L530.2,158.8L529.7,159.8L529.7,160.9L530.1,162L531.1,163L532.4,164.1L534,165.1L535.8,166.2L537.7,167.3L539.4,168.3L541,169.4L542.2,170.4L543,171.5L543.4,172.6L543.2,173.6L542.6,174.7L541.6,175.8L540.1,176.8L538.4,177.9L536.6,178.9L534.8,180" fill="none" stroke="#c4877a" stroke-width="2" stroke-linecap="round"/>
<path d="M536.5,141.8L534.7,142.9L533,143.9L531.5,145L530.4,146L529.8,147.1L529.6,148.2L529.9,149.2L530.7,150.3L531.9,151.4L533.5,152.4L535.2,153.5L537.1,154.5L538.9,155.6L540.5,156.7L541.9,157.7L542.8,158.8L543.3,159.8L543.3,160.9L542.9,162L541.9,163L540.6,164.1L539,165.1L537.2,166.2L535.3,167.3L533.6,168.3L532,169.4L530.8,170.4L530,171.5L529.6,172.6L529.8,173.6L530.4,174.7L531.4,175.8L532.9,176.8L534.6,177.9L536.4,178.9L538.2,180" fill="none" stroke="#c4877a" stroke-width="2" stroke-linecap="round"/>
<path d="M616.6,144H623.8" stroke="#c4877a" stroke-width="0.8"/>
<path d="M613.6,146.9H626.8" stroke="#c4877a" stroke-width="0.8"/>
<path d="M614,149.8H626.4" stroke="#c4877a" stroke-width="0.8"/>
<path d="M617.6,152.7H622.8" stroke="#c4877a" stroke-width="0.8"/>
<path d="M622.6,155.6H617.8" stroke="#c4877a" stroke-width="0.8"/>
<path d="M626.3,158.5H614.1" stroke="#c4877a" stroke-width="0.8"/>
<path d="M626.9,161.4H613.5" stroke="#c4877a" stroke-width="0.8"/>
<path d="M624,164.3H616.4" stroke="#c4877a" stroke-width="0.8"/>
<path d="M614.9,170.1H625.5" stroke="#c4877a" stroke-width="0.8"/>
<path d="M613.3,173H627.1" stroke="#c4877a" stroke-width="0.8"/>
<path d="M615.3,175.9H625.1" stroke="#c4877a" stroke-width="0.8"/>
<path d="M620.2,141.8L622,142.9L623.7,143.9L625.2,145L626.3,146L626.9,147.1L627.1,148.2L626.8,149.2L626,150.3L624.8,151.4L623.2,152.4L621.5,153.5L619.6,154.5L617.8,155.6L616.2,156.7L614.8,157.7L613.9,158.8L613.4,159.8L613.4,160.9L613.8,162L614.8,163L616.1,164.1L617.7,165.1L619.5,166.2L621.4,167.3L623.1,168.3L624.7,169.4L625.9,170.4L626.7,171.5L627.1,172.6L626.9,173.6L626.3,174.7L625.3,175.8L623.8,176.8L622.1,177.9L620.3,178.9L618.5,180" fill="none" stroke="#c4877a" stroke-width="2" stroke-linecap="round"/>
<path d="M620.2,141.8L618.4,142.9L616.7,143.9L615.2,145L614.1,146L613.5,147.1L613.3,148.2L613.6,149.2L614.4,150.3L615.6,151.4L617.2,152.4L618.9,153.5L620.8,154.5L622.6,155.6L624.2,156.7L625.6,157.7L626.5,158.8L627,159.8L627,160.9L626.6,162L625.6,163L624.3,164.1L622.7,165.1L620.9,166.2L619,167.3L617.3,168.3L615.7,169.4L614.5,170.4L613.7,171.5L613.3,172.6L613.5,173.6L614.1,174.7L615.1,175.8L616.6,176.8L618.3,177.9L620.1,178.9L621.9,180" fill="none" stroke="#c4877a" stroke-width="2" stroke-linecap="round"/>
<path d="M472.5,188.4C473.6,188.5 476,189 478,189C482.2,189 485.4,178 489.6,178C494.7,178 498.4,189.3 503.5,189.3C509,189.3 513,178 518.5,178C523.4,178 527.1,189.3 532,189.3C537.5,189.3 541.5,178 547,178C552.3,178 556.2,189.3 561.5,189.3C567.1,189.3 571.4,178 577,178C582,178 585.8,189.3 590.8,189.3C595.8,189.3 599.6,178 604.6,178C609.6,178 613.4,189.3 618.4,189.3C623.5,189.3 627.3,178.2 632.4,178.2C637.4,178.2 643.3,182.8 646,187.5" fill="none" stroke="#3290c6" stroke-width="2.8" stroke-linecap="round" stroke-linejoin="round" />
<path d="M472.5,188.4C473.6,188.5 476,189 478,189C482.2,189 485.4,178 489.6,178C494.7,178 498.4,189.3 503.5,189.3C509,189.3 513,178 518.5,178C523.4,178 527.1,189.3 532,189.3C537.5,189.3 541.5,178 547,178C552.3,178 556.2,189.3 561.5,189.3C567.1,189.3 571.4,178 577,178C582,178 585.8,189.3 590.8,189.3C595.8,189.3 599.6,178 604.6,178C609.6,178 613.4,189.3 618.4,189.3C623.5,189.3 627.3,178.2 632.4,178.2C637.4,178.2 643.3,182.8 646,187.5" fill="none" stroke="#5fbde4" stroke-width="1.4" stroke-linecap="round" stroke-linejoin="round" transform="translate(-0.2,-0.45)" />
<circle cx="471.9" cy="189" r="4.2" fill="url(#gBio)"/>
<path d="M684.4,207.4L681.1,207.6" stroke="#4aa3d6" stroke-width="0.9"/>
<path d="M681.1,207.6L678.9,207.7" stroke="#e79aac" stroke-width="0.9"/>
<path d="M684.2,199.4L680.1,200.9" stroke="#d8607a" stroke-width="0.9"/>
<path d="M680.1,200.9L677.4,201.8" stroke="#7fc1e6" stroke-width="0.9"/>
<path d="M684.3,196.4L678.9,198.9" stroke="#d8607a" stroke-width="0.9"/>
<path d="M678.9,198.9L675.3,200.6" stroke="#7fc1e6" stroke-width="0.9"/>
<path d="M683.5,193.5L677.6,197" stroke="#d8607a" stroke-width="0.9"/>
<path d="M677.6,197L673.7,199.4" stroke="#7fc1e6" stroke-width="0.9"/>
<path d="M681.9,191.1L676.4,195.2" stroke="#d8607a" stroke-width="0.9"/>
<path d="M676.4,195.2L672.7,197.9" stroke="#7fc1e6" stroke-width="0.9"/>
<path d="M679.7,189.3L675.1,193.3" stroke="#d8607a" stroke-width="0.9"/>
<path d="M675.1,193.3L672.1,196.1" stroke="#7fc1e6" stroke-width="0.9"/>
<path d="M676.8,188.1L673.8,191.5" stroke="#d8607a" stroke-width="0.9"/>
<path d="M673.8,191.5L671.8,193.7" stroke="#7fc1e6" stroke-width="0.9"/>
<path d="M673.7,187.8L672.3,189.7" stroke="#d8607a" stroke-width="0.9"/>
<path d="M672.3,189.7L671.3,191" stroke="#7fc1e6" stroke-width="0.9"/>
<path d="M669.3,185.2L668.1,187.9" stroke="#4aa3d6" stroke-width="0.9"/>
<path d="M668.1,187.9L667.2,189.6" stroke="#e79aac" stroke-width="0.9"/>
<path d="M667.4,182.9L665.6,188.1" stroke="#4aa3d6" stroke-width="0.9"/>
<path d="M665.6,188.1L664.3,191.6" stroke="#e79aac" stroke-width="0.9"/>
<path d="M665.1,181.3L663.1,189" stroke="#4aa3d6" stroke-width="0.9"/>
<path d="M663.1,189L661.8,194.1" stroke="#e79aac" stroke-width="0.9"/>
<path d="M662.4,180.7L661.1,188.8" stroke="#4aa3d6" stroke-width="0.9"/>
<path d="M661.1,188.8L660.3,194.3" stroke="#e79aac" stroke-width="0.9"/>
<path d="M659.6,181.1L659.3,187" stroke="#4aa3d6" stroke-width="0.9"/>
<path d="M659.3,187L659.1,191" stroke="#e79aac" stroke-width="0.9"/>
<path d="M656.9,182.5L657.1,185.8" stroke="#4aa3d6" stroke-width="0.9"/>
<path d="M657.1,185.8L657.2,188" stroke="#e79aac" stroke-width="0.9"/>
<path d="M648.9,182.7L650.4,186.8" stroke="#d8607a" stroke-width="0.9"/>
<path d="M650.4,186.8L651.3,189.5" stroke="#7fc1e6" stroke-width="0.9"/>
<path d="M645.9,182.6L648.4,188" stroke="#d8607a" stroke-width="0.9"/>
<path d="M648.4,188L650.1,191.6" stroke="#7fc1e6" stroke-width="0.9"/>
<path d="M643,183.4L646.5,189.3" stroke="#d8607a" stroke-width="0.9"/>
<path d="M646.5,189.3L648.9,193.2" stroke="#7fc1e6" stroke-width="0.9"/>
<path d="M640.6,185L644.7,190.5" stroke="#d8607a" stroke-width="0.9"/>
<path d="M644.7,190.5L647.4,194.2" stroke="#7fc1e6" stroke-width="0.9"/>
<path d="M638.8,187.2L642.8,191.8" stroke="#d8607a" stroke-width="0.9"/>
<path d="M642.8,191.8L645.6,194.8" stroke="#7fc1e6" stroke-width="0.9"/>
<path d="M637.6,190.1L641,193.1" stroke="#d8607a" stroke-width="0.9"/>
<path d="M641,193.1L643.2,195.1" stroke="#7fc1e6" stroke-width="0.9"/>
<path d="M637.3,193.2L639.2,194.6" stroke="#d8607a" stroke-width="0.9"/>
<path d="M639.2,194.6L640.5,195.6" stroke="#7fc1e6" stroke-width="0.9"/>
<path d="M634.7,197.6L637.4,198.8" stroke="#4aa3d6" stroke-width="0.9"/>
<path d="M637.4,198.8L639.1,199.7" stroke="#e79aac" stroke-width="0.9"/>
<path d="M632.4,199.5L637.6,201.3" stroke="#4aa3d6" stroke-width="0.9"/>
<path d="M637.6,201.3L641.1,202.6" stroke="#e79aac" stroke-width="0.9"/>
<path d="M630.8,201.8L638.5,203.8" stroke="#4aa3d6" stroke-width="0.9"/>
<path d="M638.5,203.8L643.6,205.1" stroke="#e79aac" stroke-width="0.9"/>
<path d="M630.2,204.5L638.3,205.8" stroke="#4aa3d6" stroke-width="0.9"/>
<path d="M638.3,205.8L643.8,206.6" stroke="#e79aac" stroke-width="0.9"/>
<path d="M630.6,207.3L636.5,207.6" stroke="#4aa3d6" stroke-width="0.9"/>
<path d="M636.5,207.6L640.5,207.8" stroke="#e79aac" stroke-width="0.9"/>
<path d="M632,210L635.3,209.8" stroke="#4aa3d6" stroke-width="0.9"/>
<path d="M635.3,209.8L637.5,209.7" stroke="#e79aac" stroke-width="0.9"/>
<path d="M632.2,218L636.3,216.5" stroke="#d8607a" stroke-width="0.9"/>
<path d="M636.3,216.5L639,215.6" stroke="#7fc1e6" stroke-width="0.9"/>
<path d="M632.1,221L637.5,218.5" stroke="#d8607a" stroke-width="0.9"/>
<path d="M637.5,218.5L641.1,216.8" stroke="#7fc1e6" stroke-width="0.9"/>
<path d="M632.9,223.9L638.8,220.4" stroke="#d8607a" stroke-width="0.9"/>
<path d="M638.8,220.4L642.7,218" stroke="#7fc1e6" stroke-width="0.9"/>
<path d="M634.5,226.3L640,222.2" stroke="#d8607a" stroke-width="0.9"/>
<path d="M640,222.2L643.7,219.5" stroke="#7fc1e6" stroke-width="0.9"/>
<path d="M636.7,228.1L641.3,224.1" stroke="#d8607a" stroke-width="0.9"/>
<path d="M641.3,224.1L644.3,221.3" stroke="#7fc1e6" stroke-width="0.9"/>
<path d="M639.6,229.3L642.6,225.9" stroke="#d8607a" stroke-width="0.9"/>
<path d="M642.6,225.9L644.6,223.7" stroke="#7fc1e6" stroke-width="0.9"/>
<path d="M642.7,229.6L644.1,227.7" stroke="#d8607a" stroke-width="0.9"/>
<path d="M644.1,227.7L645.1,226.4" stroke="#7fc1e6" stroke-width="0.9"/>
<path d="M647.1,232.2L648.3,229.5" stroke="#4aa3d6" stroke-width="0.9"/>
<path d="M648.3,229.5L649.2,227.8" stroke="#e79aac" stroke-width="0.9"/>
<path d="M649,234.5L650.8,229.3" stroke="#4aa3d6" stroke-width="0.9"/>
<path d="M650.8,229.3L652.1,225.8" stroke="#e79aac" stroke-width="0.9"/>
<path d="M651.3,236.1L653.3,228.4" stroke="#4aa3d6" stroke-width="0.9"/>
<path d="M653.3,228.4L654.6,223.3" stroke="#e79aac" stroke-width="0.9"/>
<path d="M654,236.7L655.3,228.6" stroke="#4aa3d6" stroke-width="0.9"/>
<path d="M655.3,228.6L656.1,223.1" stroke="#e79aac" stroke-width="0.9"/>
<path d="M656.8,236.3L657.1,230.4" stroke="#4aa3d6" stroke-width="0.9"/>
<path d="M657.1,230.4L657.3,226.4" stroke="#e79aac" stroke-width="0.9"/>
<path d="M659.5,234.9L659.3,231.6" stroke="#4aa3d6" stroke-width="0.9"/>
<path d="M659.3,231.6L659.2,229.4" stroke="#e79aac" stroke-width="0.9"/>
<path d="M667.5,234.7L666,230.6" stroke="#d8607a" stroke-width="0.9"/>
<path d="M666,230.6L665.1,227.9" stroke="#7fc1e6" stroke-width="0.9"/>
<path d="M670.5,234.8L668,229.4" stroke="#d8607a" stroke-width="0.9"/>
<path d="M668,229.4L666.3,225.8" stroke="#7fc1e6" stroke-width="0.9"/>
<path d="M673.4,234L669.9,228.1" stroke="#d8607a" stroke-width="0.9"/>
<path d="M669.9,228.1L667.5,224.2" stroke="#7fc1e6" stroke-width="0.9"/>
<path d="M675.8,232.4L671.7,226.9" stroke="#d8607a" stroke-width="0.9"/>
<path d="M671.7,226.9L669,223.2" stroke="#7fc1e6" stroke-width="0.9"/>
<path d="M677.6,230.2L673.6,225.6" stroke="#d8607a" stroke-width="0.9"/>
<path d="M673.6,225.6L670.8,222.6" stroke="#7fc1e6" stroke-width="0.9"/>
<path d="M678.8,227.3L675.4,224.3" stroke="#d8607a" stroke-width="0.9"/>
<path d="M675.4,224.3L673.2,222.3" stroke="#7fc1e6" stroke-width="0.9"/>
<path d="M679.1,224.2L677.2,222.8" stroke="#d8607a" stroke-width="0.9"/>
<path d="M677.2,222.8L675.9,221.8" stroke="#7fc1e6" stroke-width="0.9"/>
<path d="M681.7,219.8L679,218.6" stroke="#4aa3d6" stroke-width="0.9"/>
<path d="M679,218.6L677.3,217.7" stroke="#e79aac" stroke-width="0.9"/>
<path d="M684,217.9L678.8,216.1" stroke="#4aa3d6" stroke-width="0.9"/>
<path d="M678.8,216.1L675.3,214.8" stroke="#e79aac" stroke-width="0.9"/>
<path d="M685.6,215.6L677.9,213.6" stroke="#4aa3d6" stroke-width="0.9"/>
<path d="M677.9,213.6L672.8,212.3" stroke="#e79aac" stroke-width="0.9"/>
<path d="M686.2,212.9L678.1,211.6" stroke="#4aa3d6" stroke-width="0.9"/>
<path d="M678.1,211.6L672.6,210.8" stroke="#e79aac" stroke-width="0.9"/>
<path d="M685.8,210.1L679.9,209.8" stroke="#4aa3d6" stroke-width="0.9"/>
<path d="M679.9,209.8L675.9,209.6" stroke="#e79aac" stroke-width="0.9"/>
<path d="M677.5,208.7L679,207.6L680.4,206.4L681.6,205L682.6,203.5L683.4,201.9L683.9,200.3L684.3,198.7L684.3,197.1L684.1,195.5L683.7,194L683,192.6L682.1,191.3L681,190.2L679.7,189.3L678.3,188.6L676.7,188.1L675.1,187.8L673.4,187.8L671.6,188L669.9,188.5L668.2,189.1L666.5,190L665,191.1L663.5,192.3L662.2,193.7L661.1,195.2L660.4,194.6L659.9,192.8L659.1,191.1L658.2,189.4L657.1,187.9L655.9,186.5L654.5,185.3L653,184.3L651.4,183.5L649.8,183L648.2,182.6L646.6,182.6L645,182.8L643.5,183.2L642.1,183.9L640.8,184.8L639.7,185.9L638.8,187.2L638.1,188.6L637.6,190.2L637.3,191.8L637.3,193.5L637.5,195.3L638,197L638.6,198.7L639.5,200.4L640.6,201.9L641.8,203.4L643.2,204.7L644.7,205.8L644.1,206.5L642.3,207L640.6,207.8L638.9,208.7L637.4,209.8L636,211L634.8,212.4L633.8,213.9L633,215.5L632.5,217.1L632.1,218.7L632.1,220.3L632.3,221.9L632.7,223.4L633.4,224.8L634.3,226.1L635.4,227.2L636.7,228.1L638.1,228.8L639.7,229.3L641.3,229.6L643,229.6L644.8,229.4L646.5,228.9L648.2,228.3L649.9,227.4L651.4,226.3L652.9,225.1L654.2,223.7L655.3,222.2L656,222.8L656.5,224.6L657.3,226.3L658.2,228L659.3,229.5L660.5,230.9L661.9,232.1L663.4,233.1L665,233.9L666.6,234.4L668.2,234.8L669.8,234.8L671.4,234.6L672.9,234.2L674.3,233.5L675.6,232.6L676.7,231.5L677.6,230.2L678.3,228.8L678.8,227.2L679.1,225.6L679.1,223.9L678.9,222.1L678.4,220.4L677.8,218.7L676.9,217L675.8,215.5L674.6,214L673.2,212.7L671.7,211.6L672.3,210.9L674.1,210.4L675.8,209.6Z" fill="none" stroke="#c2566e" stroke-width="2.7" stroke-linecap="round" stroke-linejoin="round" />
<path d="M677.5,208.7L679,207.6L680.4,206.4L681.6,205L682.6,203.5L683.4,201.9L683.9,200.3L684.3,198.7L684.3,197.1L684.1,195.5L683.7,194L683,192.6L682.1,191.3L681,190.2L679.7,189.3L678.3,188.6L676.7,188.1L675.1,187.8L673.4,187.8L671.6,188L669.9,188.5L668.2,189.1L666.5,190L665,191.1L663.5,192.3L662.2,193.7L661.1,195.2L660.4,194.6L659.9,192.8L659.1,191.1L658.2,189.4L657.1,187.9L655.9,186.5L654.5,185.3L653,184.3L651.4,183.5L649.8,183L648.2,182.6L646.6,182.6L645,182.8L643.5,183.2L642.1,183.9L640.8,184.8L639.7,185.9L638.8,187.2L638.1,188.6L637.6,190.2L637.3,191.8L637.3,193.5L637.5,195.3L638,197L638.6,198.7L639.5,200.4L640.6,201.9L641.8,203.4L643.2,204.7L644.7,205.8L644.1,206.5L642.3,207L640.6,207.8L638.9,208.7L637.4,209.8L636,211L634.8,212.4L633.8,213.9L633,215.5L632.5,217.1L632.1,218.7L632.1,220.3L632.3,221.9L632.7,223.4L633.4,224.8L634.3,226.1L635.4,227.2L636.7,228.1L638.1,228.8L639.7,229.3L641.3,229.6L643,229.6L644.8,229.4L646.5,228.9L648.2,228.3L649.9,227.4L651.4,226.3L652.9,225.1L654.2,223.7L655.3,222.2L656,222.8L656.5,224.6L657.3,226.3L658.2,228L659.3,229.5L660.5,230.9L661.9,232.1L663.4,233.1L665,233.9L666.6,234.4L668.2,234.8L669.8,234.8L671.4,234.6L672.9,234.2L674.3,233.5L675.6,232.6L676.7,231.5L677.6,230.2L678.3,228.8L678.8,227.2L679.1,225.6L679.1,223.9L678.9,222.1L678.4,220.4L677.8,218.7L676.9,217L675.8,215.5L674.6,214L673.2,212.7L671.7,211.6L672.3,210.9L674.1,210.4L675.8,209.6Z" fill="none" stroke="#dc8497" stroke-width="1.4" stroke-linecap="round" stroke-linejoin="round" transform="translate(-0.2,-0.45)" />
<path d="M676,215.7L675.4,214.9L674.8,214.2L674.1,213.5L673.4,212.9L672.7,212.3L671.9,211.7L671.2,211.2L672.1,211L673,210.7L673.9,210.5L674.7,210.1L675.6,209.7L676.5,209.3L677.3,208.8" fill="none" stroke="#ee9fb2" stroke-width="2.3" stroke-linecap="round" stroke-linejoin="round"/>
<path d="M665.2,190.9L664.4,191.5L663.7,192.1L663,192.8L662.4,193.5L661.8,194.2L661.2,195L660.7,195.7L660.5,194.8L660.2,193.9L660,193L659.6,192.2L659.2,191.3L658.8,190.4L658.3,189.6" fill="none" stroke="#ee9fb2" stroke-width="2.3" stroke-linecap="round" stroke-linejoin="round"/>
<path d="M640.4,201.7L641,202.5L641.6,203.2L642.3,203.9L643,204.5L643.7,205.1L644.5,205.7L645.2,206.2L644.3,206.4L643.4,206.7L642.5,206.9L641.7,207.3L640.8,207.7L639.9,208.1L639.1,208.6" fill="none" stroke="#ee9fb2" stroke-width="2.3" stroke-linecap="round" stroke-linejoin="round"/>
<path d="M651.2,226.5L652,225.9L652.7,225.3L653.4,224.6L654,223.9L654.6,223.2L655.2,222.4L655.7,221.7L655.9,222.6L656.2,223.5L656.4,224.4L656.8,225.2L657.2,226.1L657.6,227L658.1,227.8" fill="none" stroke="#ee9fb2" stroke-width="2.3" stroke-linecap="round" stroke-linejoin="round"/>
<path d="M685.2,208.7L684.3,207.3L683.2,206.1L682,204.9L680.8,203.9L679.4,203L678.1,202.2L676.9,201.5L675.8,200.9L674.8,200.2L674,199.6L673.3,198.9L672.8,198.1L672.4,197.2L672.1,196.1L671.9,195L671.8,193.6L671.6,192.2L671.3,190.7L670.9,189.1L670.4,187.6L669.8,186L668.9,184.6L667.9,183.3L666.8,182.3L665.5,181.5L664.1,180.9L662.6,180.7L661.1,180.8L659.6,181.1L658.2,181.7L656.8,182.6L655.6,183.7L654.4,184.9L653.4,186.1L652.5,187.5L651.7,188.8L651,190L650.4,191.1L649.7,192.1L649.1,192.9L648.4,193.6L647.6,194.1L646.7,194.5L645.6,194.8L644.5,195L643.1,195.1L641.7,195.3L640.2,195.6L638.6,196L637.1,196.5L635.5,197.1L634.1,198L632.8,199L631.8,200.1L631,201.4L630.4,202.8L630.2,204.3L630.3,205.8L630.6,207.3L631.2,208.7L632.1,210.1L633.2,211.3L634.4,212.5L635.6,213.5L637,214.4L638.3,215.2L639.5,215.9L640.6,216.5L641.6,217.2L642.4,217.8L643.1,218.5L643.6,219.3L644,220.2L644.3,221.3L644.5,222.4L644.6,223.8L644.8,225.2L645.1,226.7L645.5,228.3L646,229.8L646.6,231.4L647.5,232.8L648.5,234.1L649.6,235.1L650.9,235.9L652.3,236.5L653.8,236.7L655.3,236.6L656.8,236.3L658.2,235.7L659.6,234.8L660.8,233.7L662,232.5L663,231.3L663.9,229.9L664.7,228.6L665.4,227.4L666,226.3L666.7,225.3L667.3,224.5L668,223.8L668.8,223.3L669.7,222.9L670.8,222.6L671.9,222.4L673.3,222.3L674.7,222.1L676.2,221.8L677.8,221.4L679.3,220.9L680.9,220.3L682.3,219.4L683.6,218.4L684.6,217.3L685.4,216L686,214.6L686.2,213.1L686.1,211.6L685.8,210.1Z" fill="none" stroke="#3290c6" stroke-width="2.7" stroke-linecap="round" stroke-linejoin="round" />
<path d="M685.2,208.7L684.3,207.3L683.2,206.1L682,204.9L680.8,203.9L679.4,203L678.1,202.2L676.9,201.5L675.8,200.9L674.8,200.2L674,199.6L673.3,198.9L672.8,198.1L672.4,197.2L672.1,196.1L671.9,195L671.8,193.6L671.6,192.2L671.3,190.7L670.9,189.1L670.4,187.6L669.8,186L668.9,184.6L667.9,183.3L666.8,182.3L665.5,181.5L664.1,180.9L662.6,180.7L661.1,180.8L659.6,181.1L658.2,181.7L656.8,182.6L655.6,183.7L654.4,184.9L653.4,186.1L652.5,187.5L651.7,188.8L651,190L650.4,191.1L649.7,192.1L649.1,192.9L648.4,193.6L647.6,194.1L646.7,194.5L645.6,194.8L644.5,195L643.1,195.1L641.7,195.3L640.2,195.6L638.6,196L637.1,196.5L635.5,197.1L634.1,198L632.8,199L631.8,200.1L631,201.4L630.4,202.8L630.2,204.3L630.3,205.8L630.6,207.3L631.2,208.7L632.1,210.1L633.2,211.3L634.4,212.5L635.6,213.5L637,214.4L638.3,215.2L639.5,215.9L640.6,216.5L641.6,217.2L642.4,217.8L643.1,218.5L643.6,219.3L644,220.2L644.3,221.3L644.5,222.4L644.6,223.8L644.8,225.2L645.1,226.7L645.5,228.3L646,229.8L646.6,231.4L647.5,232.8L648.5,234.1L649.6,235.1L650.9,235.9L652.3,236.5L653.8,236.7L655.3,236.6L656.8,236.3L658.2,235.7L659.6,234.8L660.8,233.7L662,232.5L663,231.3L663.9,229.9L664.7,228.6L665.4,227.4L666,226.3L666.7,225.3L667.3,224.5L668,223.8L668.8,223.3L669.7,222.9L670.8,222.6L671.9,222.4L673.3,222.3L674.7,222.1L676.2,221.8L677.8,221.4L679.3,220.9L680.9,220.3L682.3,219.4L683.6,218.4L684.6,217.3L685.4,216L686,214.6L686.2,213.1L686.1,211.6L685.8,210.1Z" fill="none" stroke="#5fbde4" stroke-width="1.4" stroke-linecap="round" stroke-linejoin="round" transform="translate(-0.2,-0.45)" />
<g filter="url(#fB)"><ellipse cx="644.8" cy="181.4" rx="7.6" ry="7" fill="#8fe0aa"/><ellipse cx="647.2" cy="192.6" rx="7.4" ry="6.8" fill="#78d498"/><ellipse cx="645.4" cy="187.2" rx="6.4" ry="3.2" fill="#46ad74" opacity="0.85"/><ellipse cx="643.4" cy="179.4" rx="4" ry="3" fill="#b8f2cc" opacity="0.85"/><ellipse cx="649" cy="194" rx="3.6" ry="2.8" fill="#a2e8b8" opacity="0.7"/></g>
<path d="M632.4,178.2C633.9,178.8 637.2,184 640,184C642.9,184 646.4,187.2 648,190.5" fill="none" stroke="#3290c6" stroke-width="2.6" stroke-linecap="round" stroke-linejoin="round" />
<path d="M632.4,178.2C633.9,178.8 637.2,184 640,184C642.9,184 646.4,187.2 648,190.5" fill="none" stroke="#5fbde4" stroke-width="1.3" stroke-linecap="round" stroke-linejoin="round" transform="translate(-0.2,-0.45)" />
<circle cx="523.8" cy="225.2" r="18.5" fill="url(#gGlow)"/>
<path d="M526,222C526.7,221.4 528.7,219 530,218.3C531.3,217.6 532.5,216.8 533.8,217.6C535,218.4 536.2,221 537.5,223C538.8,225 540,228.8 541.5,229.8C543,230.8 544.7,230.5 546.5,229C548.3,227.5 550.5,223 552.5,221C554.5,219 556.7,217.3 558.5,216.8C560.3,216.3 562.7,218 563.5,218.2" fill="none" stroke="#2fa2d4" stroke-width="2.6" stroke-linecap="round" stroke-linejoin="round" />
<path d="M526,222C526.7,221.4 528.7,219 530,218.3C531.3,217.6 532.5,216.8 533.8,217.6C535,218.4 536.2,221 537.5,223C538.8,225 540,228.8 541.5,229.8C543,230.8 544.7,230.5 546.5,229C548.3,227.5 550.5,223 552.5,221C554.5,219 556.7,217.3 558.5,216.8C560.3,216.3 562.7,218 563.5,218.2" fill="none" stroke="#6accee" stroke-width="1.3" stroke-linecap="round" stroke-linejoin="round" transform="translate(-0.2,-0.45)" />
<circle cx="523.8" cy="225.2" r="7.9" fill="url(#gGreen)"/>
<path d="M561.8,230C561.9,231 562,233.9 562.3,236C562.6,238.1 562.7,241 563.8,242.5C564.9,244 567,244.8 569,245.2C571,245.6 573.9,244.5 576,245C578.1,245.5 580.2,246.7 581.5,248C582.8,249.3 583.6,252.2 584,253" fill="none" stroke="#2fa2d4" stroke-width="2.6" stroke-linecap="round" stroke-linejoin="round" />
<path d="M561.8,230C561.9,231 562,233.9 562.3,236C562.6,238.1 562.7,241 563.8,242.5C564.9,244 567,244.8 569,245.2C571,245.6 573.9,244.5 576,245C578.1,245.5 580.2,246.7 581.5,248C582.8,249.3 583.6,252.2 584,253" fill="none" stroke="#6accee" stroke-width="1.3" stroke-linecap="round" stroke-linejoin="round" transform="translate(-0.2,-0.45)" />
<circle cx="584.9" cy="257.6" r="7.9" fill="url(#gGrey)"/>
<path d="M566,227.6L584.1,235.5L584.9,233.4Z" fill="#b4b8be" stroke="#6c7076" stroke-width="0.4"/>
<path d="M582.5,233.7L588.4,239" stroke="#333" stroke-width="1.2" stroke-linecap="round"/>
<circle cx="590.8" cy="241.1" r="3.3" fill="none" stroke="#262626" stroke-width="1.3"/>
<path d="M567.4,233.7L584.3,234.8L584.3,232.6Z" fill="#d2d6da" stroke="#6c7076" stroke-width="0.4"/>
<path d="M582.5,233.7L589.5,229.1" stroke="#333" stroke-width="1.2" stroke-linecap="round"/>
<circle cx="592.2" cy="227.4" r="3.3" fill="none" stroke="#262626" stroke-width="1.3"/>
<circle cx="588.8" cy="288.8" r="18.5" fill="url(#gGlow)"/>
<path d="M590,282C589.6,281.4 587.2,279 587.5,278.2C587.8,277.4 590.1,277 592,277.2C593.9,277.4 596.7,278.7 599,279.3C601.3,279.9 604.2,281.3 606,280.6C607.8,279.9 609.1,277.4 610,275C610.9,272.6 610.9,268.3 611.5,266C612.1,263.7 612.5,262 613.5,261C614.5,260 616.8,260.3 617.5,260.2" fill="none" stroke="#2fa2d4" stroke-width="2.6" stroke-linecap="round" stroke-linejoin="round" />
<path d="M590,282C589.6,281.4 587.2,279 587.5,278.2C587.8,277.4 590.1,277 592,277.2C593.9,277.4 596.7,278.7 599,279.3C601.3,279.9 604.2,281.3 606,280.6C607.8,279.9 609.1,277.4 610,275C610.9,272.6 610.9,268.3 611.5,266C612.1,263.7 612.5,262 613.5,261C614.5,260 616.8,260.3 617.5,260.2" fill="none" stroke="#6accee" stroke-width="1.3" stroke-linecap="round" stroke-linejoin="round" transform="translate(-0.2,-0.45)" />
<circle cx="588.6" cy="288.6" r="8" fill="url(#gGreen)"/>
<path d="M621.2,271.2C621.8,272.2 623.2,275.2 624.5,277C625.8,278.8 627.3,281.1 629,282C630.7,282.9 632.8,283.3 634.5,282.3C636.2,281.3 637.9,277.9 639.5,276C641.1,274.1 642.3,271.4 644,270.6C645.7,269.8 647.9,270.3 649.5,271C651.1,271.7 652.8,274.3 653.5,275" fill="none" stroke="#2fa2d4" stroke-width="2.6" stroke-linecap="round" stroke-linejoin="round" />
<path d="M621.2,271.2C621.8,272.2 623.2,275.2 624.5,277C625.8,278.8 627.3,281.1 629,282C630.7,282.9 632.8,283.3 634.5,282.3C636.2,281.3 637.9,277.9 639.5,276C641.1,274.1 642.3,271.4 644,270.6C645.7,269.8 647.9,270.3 649.5,271C651.1,271.7 652.8,274.3 653.5,275" fill="none" stroke="#6accee" stroke-width="1.3" stroke-linecap="round" stroke-linejoin="round" transform="translate(-0.2,-0.45)" />
<circle cx="656.2" cy="278.9" r="8.1" fill="url(#gGrey)"/>
<path d="M622.4,265.9L636.6,262.4L635.9,260.3Z" fill="#b4b8be" stroke="#6c7076" stroke-width="0.4"/>
<path d="M634.8,261.8L644.9,259.7" stroke="#333" stroke-width="1.2" stroke-linecap="round"/>
<circle cx="648" cy="259" r="3.3" fill="none" stroke="#262626" stroke-width="1.3"/>
<path d="M627.1,271.4L636.6,261.3L634.9,260Z" fill="#d2d6da" stroke="#6c7076" stroke-width="0.4"/>
<path d="M634.8,261.8L639.1,251.6" stroke="#333" stroke-width="1.2" stroke-linecap="round"/>
<circle cx="640.3" cy="248.6" r="3.3" fill="none" stroke="#262626" stroke-width="1.3"/>
<path d="M521,292C521.7,291.7 523.8,289.9 525,290C526.2,290.1 527.2,290.7 528.5,292.5C529.8,294.3 531.1,298.6 532.5,301C533.9,303.4 535.3,306.6 537,307.2C538.7,307.8 540.8,305.9 542.5,304.5C544.2,303.1 545.5,299.7 547,298.5C548.5,297.3 550,296.6 551.5,297.3C553,298 554.5,300.4 556,302.5C557.5,304.6 559.1,308.4 560.5,310C561.9,311.6 563,312.6 564.5,312.3C566,312.1 567.8,309.9 569.5,308.5C571.2,307.1 573.2,304.7 575,304C576.8,303.3 578.2,303.3 580,304.2C581.8,305.1 584.6,308.6 585.5,309.5" fill="none" stroke="#2fa2d4" stroke-width="2.6" stroke-linecap="round" stroke-linejoin="round" />
<path d="M521,292C521.7,291.7 523.8,289.9 525,290C526.2,290.1 527.2,290.7 528.5,292.5C529.8,294.3 531.1,298.6 532.5,301C533.9,303.4 535.3,306.6 537,307.2C538.7,307.8 540.8,305.9 542.5,304.5C544.2,303.1 545.5,299.7 547,298.5C548.5,297.3 550,296.6 551.5,297.3C553,298 554.5,300.4 556,302.5C557.5,304.6 559.1,308.4 560.5,310C561.9,311.6 563,312.6 564.5,312.3C566,312.1 567.8,309.9 569.5,308.5C571.2,307.1 573.2,304.7 575,304C576.8,303.3 578.2,303.3 580,304.2C581.8,305.1 584.6,308.6 585.5,309.5" fill="none" stroke="#6accee" stroke-width="1.3" stroke-linecap="round" stroke-linejoin="round" transform="translate(-0.2,-0.45)" />
<circle cx="517.4" cy="295.5" r="7.8" fill="url(#gGreen)"/>
<circle cx="590.9" cy="314.5" r="7.9" fill="url(#gGrey)"/>
<text x="9.9" y="343" font-size="13">a. Immuno-binding reaction</text>
<text x="184" y="343" font-size="13">b. DNA amplification</text>
<text x="322" y="343" font-size="13">c. CRISPR/Cas12a cleavage</text>
<rect x="10.5" y="352.3" width="677.6" height="54" rx="3.5" fill="none" stroke="#222" stroke-width="1.2" stroke-dasharray="4 2.2"/>
<path d="M26.5,367C27.8,369.9 31.2,372.8 33,372.8C35.5,372.8 39.9,365.2 42.4,365.2C44.8,365.2 49,372.8 51.4,372.8C53.1,372.8 56.5,369.7 57.8,366.6" fill="none" stroke="#3290c6" stroke-width="1.8" stroke-linecap="round" stroke-linejoin="round" />
<path d="M26.5,367C27.8,369.9 31.2,372.8 33,372.8C35.5,372.8 39.9,365.2 42.4,365.2C44.8,365.2 49,372.8 51.4,372.8C53.1,372.8 56.5,369.7 57.8,366.6" fill="none" stroke="#5fbde4" stroke-width="0.9" stroke-linecap="round" stroke-linejoin="round" transform="translate(-0.2,-0.45)" />
<circle cx="26" cy="366.5" r="2.1" fill="url(#gBio)"/>
<text x="63" y="373.6" font-size="13">Biotin-primer</text>
<path d="M176.5,355.3A14.6,14.6 0 1 0 181.5,354.6" fill="none" stroke="#c2566e" stroke-width="1.5"/>
<text x="201.3" y="373.6" font-size="13">Padlock</text>
<circle cx="283.8" cy="369.5" r="6.4" fill="#4c84c0"/>
<g filter="url(#fT4)">
<circle cx="283.8" cy="369.5" r="6.9" fill="#4c84c0"/>
<circle cx="284.1" cy="374.3" r="1.2" fill="#7fb0e0" opacity="0.7"/>
<circle cx="285.4" cy="370.2" r="1.9" fill="#3968a6" opacity="0.7"/>
<circle cx="282.8" cy="369.4" r="1.5" fill="#325f9b" opacity="0.7"/>
<circle cx="281.2" cy="369.1" r="1.8" fill="#7fb0e0" opacity="0.7"/>
<circle cx="278.6" cy="369.4" r="1.7" fill="#6a9fd6" opacity="0.7"/>
<circle cx="279" cy="371.8" r="1.4" fill="#7fb0e0" opacity="0.7"/>
<circle cx="282.6" cy="367.8" r="1.8" fill="#325f9b" opacity="0.7"/>
<circle cx="281.1" cy="366.9" r="1.7" fill="#9cc4ea" opacity="0.7"/>
<circle cx="283.4" cy="370.3" r="1.9" fill="#6a9fd6" opacity="0.7"/>
<circle cx="286.5" cy="366.7" r="1.2" fill="#7fb0e0" opacity="0.7"/>
<circle cx="282.6" cy="368.8" r="1.7" fill="#3968a6" opacity="0.7"/>
<circle cx="287.1" cy="367.7" r="1.7" fill="#325f9b" opacity="0.7"/>
<circle cx="282.6" cy="371.9" r="1.8" fill="#3968a6" opacity="0.7"/>
<circle cx="285.5" cy="372.4" r="1.5" fill="#9cc4ea" opacity="0.7"/>
<circle cx="281.7" cy="363.9" r="1.8" fill="#6a9fd6" opacity="0.7"/>
<circle cx="281.4" cy="367.1" r="1.4" fill="#9cc4ea" opacity="0.7"/>
<circle cx="282.2" cy="368.9" r="1.9" fill="#6a9fd6" opacity="0.7"/>
<circle cx="286.6" cy="367" r="1.4" fill="#7fb0e0" opacity="0.7"/>
</g>
<text x="296.3" y="373.6" font-size="13">T4 DNA ligase</text>
<g transform="translate(416,369.3) rotate(0) scale(0.98)" filter="url(#fB)">
<path d="M-7.2,-3C-7.4,-9.6 5,-10 5.2,-3.2L5,-0.8C9,0 8.8,8.8 4.2,8.8L-6,8.8Q-7.8,8.8 -7.6,6.5Z" fill="#79d092"/>
<path d="M-7.2,-2.5C-3,-0.5 2,-0.8 5,-2.4L5,-0.8C3,1.2 -3,3.4 -7.4,2.2Z" fill="#3f9f64" opacity="0.75"/>
<path d="M-6.2,-4.2C-6.2,-8.8 3.2,-9.2 4,-4.6C1,-3 -3,-3 -6.2,-4.2Z" fill="#a4e6b6" opacity="0.85"/>
<path d="M-0.5,3.6C2,0.8 7,1.6 7.2,5C6,8 1,8.4 -0.5,3.6Z" fill="#9be0ae" opacity="0.8"/>
<path d="M-7.4,4C-5,5 -3,7 -2,8.8L-6,8.8Q-7.8,8.8 -7.6,6.5Z" fill="#4cab6f" opacity="0.7"/>
</g>
<text x="430" y="373.6" font-size="13">Phi29 DNA polymerase</text>
<path d="M601,375.5L601,367" stroke="#3249c2" stroke-width="1.7" stroke-linecap="round"/>
<path d="M603,375.5L603,367" stroke="#3249c2" stroke-width="1.7" stroke-linecap="round"/>
<path d="M601,367L596.6,360.4" stroke="#3249c2" stroke-width="1.7" stroke-linecap="round"/>
<path d="M598.4,365.8L594.4,362" stroke="#3249c2" stroke-width="1.7" stroke-linecap="round"/>
<path d="M603,367L607.4,360.4" stroke="#3249c2" stroke-width="1.7" stroke-linecap="round"/>
<path d="M605.6,365.8L609.6,362" stroke="#3249c2" stroke-width="1.7" stroke-linecap="round"/>
<text x="612" y="373.6" font-size="13">Capture Ab</text>
<path d="M31,402L31,393.2" stroke="#b24ac1" stroke-width="1.7" stroke-linecap="round"/>
<path d="M33,402L33,393.2" stroke="#b24ac1" stroke-width="1.7" stroke-linecap="round"/>
<path d="M31,393.2L26.6,386.4" stroke="#b24ac1" stroke-width="1.7" stroke-linecap="round"/>
<path d="M28.4,392L24.4,388" stroke="#b24ac1" stroke-width="1.7" stroke-linecap="round"/>
<path d="M33,393.2L37.4,386.4" stroke="#b24ac1" stroke-width="1.7" stroke-linecap="round"/>
<path d="M35.6,392L39.6,388" stroke="#b24ac1" stroke-width="1.7" stroke-linecap="round"/>
<text x="41.3" y="398.6" font-size="13">Ab1</text>
<path d="M96,399.5L96,391.2" stroke="#2c9a86" stroke-width="1.7" stroke-linecap="round"/>
<path d="M98,399.5L98,391.2" stroke="#2c9a86" stroke-width="1.7" stroke-linecap="round"/>
<path d="M96,391.2L91.6,384.9" stroke="#2c9a86" stroke-width="1.7" stroke-linecap="round"/>
<path d="M93.4,390.1L89.4,386.5" stroke="#2c9a86" stroke-width="1.7" stroke-linecap="round"/>
<path d="M98,391.2L102.4,384.9" stroke="#2c9a86" stroke-width="1.7" stroke-linecap="round"/>
<path d="M100.6,390.1L104.6,386.5" stroke="#2c9a86" stroke-width="1.7" stroke-linecap="round"/>
<circle cx="97.3" cy="402.3" r="1.9" fill="url(#gBio)"/>
<text x="108.8" y="398.6" font-size="13">Biotin-Ab2</text>
<path d="M202.5,387.6L208.5,391.3L209.5,396.4L203.8,401.1L198.4,398.3L196.4,392.3Z" fill="#28d0ce"/>
<path d="M202.5,387.6L202.3,392.6L196.4,392.3Z" fill="#22eceb"/>
<path d="M202.5,387.6L208.5,391.3L202.3,392.6Z" fill="#24e2e2"/>
<path d="M196.4,392.3L202.3,392.6L199.4,397.7L198.4,398.3Z" fill="#2bd6d4"/>
<path d="M208.5,391.3L209.5,396.4L205.7,397.3L202.3,392.6Z" fill="#29d0ce"/>
<path d="M202.3,392.6L205.7,397.3L199.4,397.7Z" fill="#1fb4b1"/>
<path d="M198.4,398.3L199.4,397.7L203.8,401.1Z" fill="#26c6c4"/>
<path d="M199.4,397.7L205.7,397.3L203.8,401.1Z" fill="#23bcba"/>
<path d="M205.7,397.3L209.5,396.4L203.8,401.1Z" fill="#28cac8"/>
<text x="213.8" y="398.6" font-size="13">N protein</text>
<path d="M298.6,388.1L301.4,388.1Q302.4,388.1 302.4,389.2L302.4,390.6Q302.4,391.7 303.6,391.7L304.9,391.7Q306.1,391.7 306.1,392.8L306.1,395.5Q306.1,396.6 304.9,396.6L303.6,396.6Q302.4,396.6 302.4,397.7L302.4,399.1Q302.4,400.2 301.4,400.2L298.6,400.2Q297.6,400.2 297.6,399.1L297.6,397.7Q297.6,396.6 296.4,396.6L295.1,396.6Q293.9,396.6 293.9,395.5L293.9,392.8Q293.9,391.7 295.1,391.7L296.4,391.7Q297.6,391.7 297.6,390.6L297.6,389.2Q297.6,388.1 298.6,388.1Z" fill="#4fb5cb"/>
<text x="311.3" y="398.6" font-size="13">SA</text>
<path d="M358.5,387.1C358.9,386.7 359.5,386.3 360.2,386.1C360.9,385.9 361.8,385.9 362.6,385.9C363.5,385.8 364.5,385.9 365.2,386C366,386.1 366.7,386.1 367.4,386.2C368.1,386.3 368.8,386.5 369.3,386.8C369.9,387.2 370.3,387.7 370.7,388.3C371.1,388.8 371.3,389.3 371.7,389.9C372,390.5 372.6,391.2 372.9,391.8C373.2,392.5 373.4,393.1 373.6,393.7C373.8,394.4 373.9,395 373.8,395.7C373.8,396.3 373.6,397.1 373.4,397.8C373.1,398.5 372.7,399.3 372.2,399.9C371.6,400.6 370.9,401.2 370.3,401.6C369.6,402.1 368.8,402.4 368.1,402.6C367.4,402.8 366.6,402.8 366,402.8C365.3,402.8 364.6,402.6 364,402.3C363.5,402.1 363.2,401.5 362.6,401.3C362.1,401 361.4,400.9 360.7,400.8C360,400.7 359,400.8 358.3,400.5C357.7,400.2 357.2,399.7 356.9,399.2C356.6,398.7 356.6,398.1 356.6,397.6C356.7,397 356.9,396.5 357.4,396.1C357.8,395.8 358.7,395.8 359.3,395.7C359.9,395.6 360.6,395.8 360.9,395.6C361.3,395.4 361.3,394.8 361.2,394.5C361.1,394.1 360.7,393.6 360.2,393.3C359.7,392.9 358.9,392.8 358.3,392.6C357.8,392.3 357.1,392 356.9,391.6C356.7,391.2 357,390.7 357.1,390.2C357.3,389.6 357.6,389 357.8,388.5C358.1,388 358.2,387.5 358.5,387.1Z" fill="#b6d2ea" stroke="#86b9e2" stroke-width="0.7" filter="url(#fB)"/>
<path d="M358.5,398.5q2,-3 4,0t4,0q1.5,-1 1.8,-4q-2.5,-2 0,-4q2.5,-2 0,-4" fill="none" stroke="#c4877a" stroke-width="0.7"/>
<text x="378" y="398.6" font-size="13">Cas12a/crRNA</text>
<path d="M504,390.5C505.7,388.5 509.4,386.5 512.5,386.5C516.6,386.5 519.7,399.3 523.8,399.3C527.9,399.3 530.9,386.8 535,386.8C539.1,386.8 542.2,399.3 546.3,399.3C550.4,399.3 553.4,387 557.5,387C559.9,387 562.7,389.8 564,392.5" fill="none" stroke="#2fa2d4" stroke-width="2.3" stroke-linecap="round" stroke-linejoin="round" />
<path d="M504,390.5C505.7,388.5 509.4,386.5 512.5,386.5C516.6,386.5 519.7,399.3 523.8,399.3C527.9,399.3 530.9,386.8 535,386.8C539.1,386.8 542.2,399.3 546.3,399.3C550.4,399.3 553.4,387 557.5,387C559.9,387 562.7,389.8 564,392.5" fill="none" stroke="#6accee" stroke-width="1.1" stroke-linecap="round" stroke-linejoin="round" transform="translate(-0.2,-0.45)" />
<circle cx="500.3" cy="393.8" r="7" fill="url(#gGreen)"/>
<circle cx="567.5" cy="393.8" r="6.6" fill="url(#gGrey)"/>
<text x="581.3" y="398.6" font-size="13">FAM-DNA-BHQ1</text>
</g>
</svg>
</body></html>
